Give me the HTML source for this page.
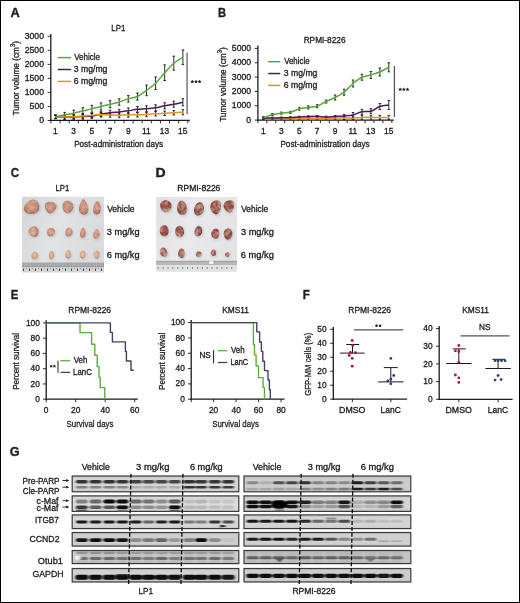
<!DOCTYPE html>
<html><head><meta charset="utf-8"><title>Figure</title>
<style>
html,body{margin:0;padding:0;background:#fff;}
body{width:520px;height:603px;overflow:hidden;}
svg{display:block;font-family:"Liberation Sans", sans-serif;filter:blur(0.3px);}
text{stroke:#1a1a1a;stroke-width:0.3px;}
text[font-weight="bold"]{stroke-width:0.35px;}
</style></head><body>
<svg width="520" height="603" viewBox="0 0 520 603" fill="#231f20">
<defs>
<linearGradient id="bgC" x1="0" y1="0" x2="1" y2="0.3"><stop offset="0" stop-color="#d4d5d7"/><stop offset="0.5" stop-color="#e2e3e5"/><stop offset="1" stop-color="#dadbdd"/></linearGradient>
<linearGradient id="bgD" x1="0" y1="0" x2="1" y2="0.3"><stop offset="0" stop-color="#dfe0e2"/><stop offset="0.5" stop-color="#eaeaec"/><stop offset="1" stop-color="#e4e4e6"/></linearGradient>
<radialGradient id="tC0" cx="0.45" cy="0.42" r="0.62"><stop offset="0" stop-color="#d2a08a"/><stop offset="0.65" stop-color="#bf846c"/><stop offset="1" stop-color="#9c5e4a"/></radialGradient>
<radialGradient id="tC1" cx="0.45" cy="0.42" r="0.62"><stop offset="0" stop-color="#d8a892"/><stop offset="0.65" stop-color="#c68a72"/><stop offset="1" stop-color="#a46650"/></radialGradient>
<radialGradient id="tC2" cx="0.45" cy="0.42" r="0.62"><stop offset="0" stop-color="#e2c0a4"/><stop offset="0.65" stop-color="#d0a284"/><stop offset="1" stop-color="#b4805e"/></radialGradient>
<radialGradient id="tD0" cx="0.45" cy="0.42" r="0.62"><stop offset="0" stop-color="#a45c54"/><stop offset="0.65" stop-color="#904844"/><stop offset="1" stop-color="#7a3a36"/></radialGradient>
<radialGradient id="tD1" cx="0.45" cy="0.42" r="0.62"><stop offset="0" stop-color="#a45c54"/><stop offset="0.65" stop-color="#904844"/><stop offset="1" stop-color="#7a3a36"/></radialGradient>
<radialGradient id="tD2" cx="0.45" cy="0.42" r="0.62"><stop offset="0" stop-color="#b07468"/><stop offset="0.65" stop-color="#a05a50"/><stop offset="1" stop-color="#884640"/></radialGradient>
<linearGradient id="blotbg" x1="0" y1="0" x2="0" y2="1"><stop offset="0" stop-color="#000" stop-opacity="0.07"/><stop offset="0.2" stop-color="#fff" stop-opacity="0.06"/><stop offset="0.8" stop-color="#fff" stop-opacity="0.06"/><stop offset="1" stop-color="#000" stop-opacity="0.06"/></linearGradient>
<filter id="blur04" x="-30%" y="-30%" width="160%" height="160%"><feGaussianBlur stdDeviation="0.45"/></filter>
<filter id="blur06" x="-50%" y="-50%" width="200%" height="200%"><feGaussianBlur stdDeviation="0.6"/></filter>
<filter id="blur1" x="-50%" y="-50%" width="200%" height="200%"><feGaussianBlur stdDeviation="1"/></filter>
<filter id="bandblur" x="-5%" y="-5%" width="110%" height="110%"><feGaussianBlur stdDeviation="0.85 0.5"/></filter>
<filter id="mottleC" x="-20%" y="-20%" width="140%" height="140%"><feTurbulence type="fractalNoise" baseFrequency="0.28" numOctaves="2" seed="4" result="n"/><feColorMatrix in="n" type="matrix" values="0 0 0 0 0.88  0 0 0 0 0.7  0 0 0 0 0.62  1.0 0 0 0 -0.45" result="sp"/><feComposite in="sp" in2="SourceGraphic" operator="in" result="sp2"/><feMerge result="m"><feMergeNode in="SourceGraphic"/><feMergeNode in="sp2"/></feMerge><feGaussianBlur in="m" stdDeviation="0.6"/></filter>
<filter id="mottleD" x="-20%" y="-20%" width="140%" height="140%"><feTurbulence type="fractalNoise" baseFrequency="0.22" numOctaves="2" seed="9" result="n"/><feColorMatrix in="n" type="matrix" values="0 0 0 0 0.7  0 0 0 0 0.56  0 0 0 0 0.46  1.5 0 0 0 -0.6" result="sp"/><feComposite in="sp" in2="SourceGraphic" operator="in" result="sp2"/><feMerge result="m"><feMergeNode in="SourceGraphic"/><feMergeNode in="sp2"/></feMerge><feGaussianBlur in="m" stdDeviation="0.6"/></filter>
</defs>
<rect x="0" y="0" width="520" height="603" fill="#fff"/>
<text x="10.48" y="17.2" font-size="12.9" textLength="9.27" lengthAdjust="spacingAndGlyphs" font-weight="bold">A</text>
<text x="111.27" y="30.9" font-size="8.6" textLength="14.08" lengthAdjust="spacingAndGlyphs">LP1</text>
<line x1="50.8" y1="34" x2="50.8" y2="121" stroke="#1a1a1a" stroke-width="1.3"/>
<line x1="47.6" y1="36.3" x2="50.8" y2="36.3" stroke="#1a1a1a" stroke-width="0.9"/>
<text x="24.75" y="38.8" font-size="8.4" textLength="19.25" lengthAdjust="spacingAndGlyphs">3000</text>
<line x1="47.6" y1="50.33" x2="50.8" y2="50.33" stroke="#1a1a1a" stroke-width="0.9"/>
<text x="24.75" y="52.83" font-size="8.4" textLength="19.25" lengthAdjust="spacingAndGlyphs">2500</text>
<line x1="47.6" y1="64.36" x2="50.8" y2="64.36" stroke="#1a1a1a" stroke-width="0.9"/>
<text x="24.75" y="66.86" font-size="8.4" textLength="19.25" lengthAdjust="spacingAndGlyphs">2000</text>
<line x1="47.6" y1="78.39" x2="50.8" y2="78.39" stroke="#1a1a1a" stroke-width="0.9"/>
<text x="24.75" y="80.89" font-size="8.4" textLength="19.25" lengthAdjust="spacingAndGlyphs">1500</text>
<line x1="47.6" y1="92.42" x2="50.8" y2="92.42" stroke="#1a1a1a" stroke-width="0.9"/>
<text x="24.75" y="94.92" font-size="8.4" textLength="19.25" lengthAdjust="spacingAndGlyphs">1000</text>
<line x1="47.6" y1="106.45" x2="50.8" y2="106.45" stroke="#1a1a1a" stroke-width="0.9"/>
<text x="29.6" y="108.95" font-size="8.4" textLength="14.44" lengthAdjust="spacingAndGlyphs">500</text>
<line x1="47.6" y1="120.48" x2="50.8" y2="120.48" stroke="#1a1a1a" stroke-width="0.9"/>
<text x="39.2" y="122.98" font-size="8.4" textLength="4.81" lengthAdjust="spacingAndGlyphs">0</text>
<line x1="50.2" y1="120.4" x2="189.9" y2="120.4" stroke="#1a1a1a" stroke-width="1.3"/>
<line x1="51" y1="120.4" x2="51" y2="123.4" stroke="#1a1a1a" stroke-width="0.9"/>
<line x1="60.12" y1="120.4" x2="60.12" y2="123.4" stroke="#1a1a1a" stroke-width="0.9"/>
<line x1="69.24" y1="120.4" x2="69.24" y2="123.4" stroke="#1a1a1a" stroke-width="0.9"/>
<line x1="78.36" y1="120.4" x2="78.36" y2="123.4" stroke="#1a1a1a" stroke-width="0.9"/>
<line x1="87.48" y1="120.4" x2="87.48" y2="123.4" stroke="#1a1a1a" stroke-width="0.9"/>
<line x1="96.6" y1="120.4" x2="96.6" y2="123.4" stroke="#1a1a1a" stroke-width="0.9"/>
<line x1="105.72" y1="120.4" x2="105.72" y2="123.4" stroke="#1a1a1a" stroke-width="0.9"/>
<line x1="114.84" y1="120.4" x2="114.84" y2="123.4" stroke="#1a1a1a" stroke-width="0.9"/>
<line x1="123.96" y1="120.4" x2="123.96" y2="123.4" stroke="#1a1a1a" stroke-width="0.9"/>
<line x1="133.08" y1="120.4" x2="133.08" y2="123.4" stroke="#1a1a1a" stroke-width="0.9"/>
<line x1="142.2" y1="120.4" x2="142.2" y2="123.4" stroke="#1a1a1a" stroke-width="0.9"/>
<line x1="151.32" y1="120.4" x2="151.32" y2="123.4" stroke="#1a1a1a" stroke-width="0.9"/>
<line x1="160.44" y1="120.4" x2="160.44" y2="123.4" stroke="#1a1a1a" stroke-width="0.9"/>
<line x1="169.56" y1="120.4" x2="169.56" y2="123.4" stroke="#1a1a1a" stroke-width="0.9"/>
<line x1="178.68" y1="120.4" x2="178.68" y2="123.4" stroke="#1a1a1a" stroke-width="0.9"/>
<line x1="187.8" y1="120.4" x2="187.8" y2="123.4" stroke="#1a1a1a" stroke-width="0.9"/>
<text x="53.04" y="133.7" font-size="8.4" textLength="4.67" lengthAdjust="spacingAndGlyphs">1</text>
<text x="71.37" y="133.7" font-size="8.4" textLength="4.67" lengthAdjust="spacingAndGlyphs">3</text>
<text x="89.57" y="133.7" font-size="8.4" textLength="4.67" lengthAdjust="spacingAndGlyphs">5</text>
<text x="107.77" y="133.7" font-size="8.4" textLength="4.67" lengthAdjust="spacingAndGlyphs">7</text>
<text x="125.97" y="133.7" font-size="8.4" textLength="4.67" lengthAdjust="spacingAndGlyphs">9</text>
<text x="142.03" y="133.7" font-size="8.4" textLength="8.72" lengthAdjust="spacingAndGlyphs">11</text>
<text x="159.89" y="133.7" font-size="8.4" textLength="9.34" lengthAdjust="spacingAndGlyphs">13</text>
<text x="178.09" y="133.7" font-size="8.4" textLength="9.34" lengthAdjust="spacingAndGlyphs">15</text>
<text x="74.15" y="146.9" font-size="9.1" textLength="89.03" lengthAdjust="spacingAndGlyphs">Post-administration days</text>
<text transform="translate(18.9,115.56) rotate(-90) scale(0.93,1)" x="0" y="0" font-size="8.9">Tumor volume (cm<tspan font-size="6.41" dy="-3.74">3</tspan><tspan dy="3.74">)</tspan></text>
<line x1="57.8" y1="57.6" x2="71.1" y2="57.6" stroke="#5aa83a" stroke-width="1.5"/>
<line x1="57.8" y1="69.5" x2="71.1" y2="69.5" stroke="#4a1a5e" stroke-width="1.5"/>
<line x1="57.8" y1="81.4" x2="71.1" y2="81.4" stroke="#e39420" stroke-width="1.5"/>
<text x="74.16" y="60" font-size="8.6" textLength="25.8" lengthAdjust="spacingAndGlyphs">Vehicle</text>
<text x="73.86" y="71.9" font-size="8.6" textLength="33.51" lengthAdjust="spacingAndGlyphs">3 mg/mg</text>
<text x="73.77" y="83.8" font-size="8.6" textLength="33.6" lengthAdjust="spacingAndGlyphs">6 mg/mg</text>
<line x1="55.5" y1="115.6" x2="55.5" y2="118.6" stroke="#151515" stroke-width="0.9"/>
<line x1="54.25" y1="115.6" x2="56.75" y2="115.6" stroke="#151515" stroke-width="0.9"/>
<line x1="54.25" y1="118.6" x2="56.75" y2="118.6" stroke="#151515" stroke-width="0.9"/>
<line x1="64.6" y1="115.3" x2="64.6" y2="119.3" stroke="#151515" stroke-width="0.9"/>
<line x1="63.35" y1="115.3" x2="65.85" y2="115.3" stroke="#151515" stroke-width="0.9"/>
<line x1="63.35" y1="119.3" x2="65.85" y2="119.3" stroke="#151515" stroke-width="0.9"/>
<line x1="73.7" y1="114.9" x2="73.7" y2="119.3" stroke="#151515" stroke-width="0.9"/>
<line x1="72.45" y1="114.9" x2="74.95" y2="114.9" stroke="#151515" stroke-width="0.9"/>
<line x1="72.45" y1="119.3" x2="74.95" y2="119.3" stroke="#151515" stroke-width="0.9"/>
<line x1="82.8" y1="114.1" x2="82.8" y2="119.1" stroke="#151515" stroke-width="0.9"/>
<line x1="81.55" y1="114.1" x2="84.05" y2="114.1" stroke="#151515" stroke-width="0.9"/>
<line x1="81.55" y1="119.1" x2="84.05" y2="119.1" stroke="#151515" stroke-width="0.9"/>
<line x1="91.9" y1="113.4" x2="91.9" y2="118.4" stroke="#151515" stroke-width="0.9"/>
<line x1="90.65" y1="113.4" x2="93.15" y2="113.4" stroke="#151515" stroke-width="0.9"/>
<line x1="90.65" y1="118.4" x2="93.15" y2="118.4" stroke="#151515" stroke-width="0.9"/>
<line x1="101" y1="111.7" x2="101" y2="116.7" stroke="#151515" stroke-width="0.9"/>
<line x1="99.75" y1="111.7" x2="102.25" y2="111.7" stroke="#151515" stroke-width="0.9"/>
<line x1="99.75" y1="116.7" x2="102.25" y2="116.7" stroke="#151515" stroke-width="0.9"/>
<line x1="110.1" y1="110.2" x2="110.1" y2="115.2" stroke="#151515" stroke-width="0.9"/>
<line x1="108.85" y1="110.2" x2="111.35" y2="110.2" stroke="#151515" stroke-width="0.9"/>
<line x1="108.85" y1="115.2" x2="111.35" y2="115.2" stroke="#151515" stroke-width="0.9"/>
<line x1="119.2" y1="109.4" x2="119.2" y2="114.4" stroke="#151515" stroke-width="0.9"/>
<line x1="117.95" y1="109.4" x2="120.45" y2="109.4" stroke="#151515" stroke-width="0.9"/>
<line x1="117.95" y1="114.4" x2="120.45" y2="114.4" stroke="#151515" stroke-width="0.9"/>
<line x1="128.3" y1="108" x2="128.3" y2="113.6" stroke="#151515" stroke-width="0.9"/>
<line x1="127.05" y1="108" x2="129.55" y2="108" stroke="#151515" stroke-width="0.9"/>
<line x1="127.05" y1="113.6" x2="129.55" y2="113.6" stroke="#151515" stroke-width="0.9"/>
<line x1="137.4" y1="106.5" x2="137.4" y2="112.1" stroke="#151515" stroke-width="0.9"/>
<line x1="136.15" y1="106.5" x2="138.65" y2="106.5" stroke="#151515" stroke-width="0.9"/>
<line x1="136.15" y1="112.1" x2="138.65" y2="112.1" stroke="#151515" stroke-width="0.9"/>
<line x1="146.5" y1="105.8" x2="146.5" y2="111.8" stroke="#151515" stroke-width="0.9"/>
<line x1="145.25" y1="105.8" x2="147.75" y2="105.8" stroke="#151515" stroke-width="0.9"/>
<line x1="145.25" y1="111.8" x2="147.75" y2="111.8" stroke="#151515" stroke-width="0.9"/>
<line x1="155.6" y1="104.8" x2="155.6" y2="110.8" stroke="#151515" stroke-width="0.9"/>
<line x1="154.35" y1="104.8" x2="156.85" y2="104.8" stroke="#151515" stroke-width="0.9"/>
<line x1="154.35" y1="110.8" x2="156.85" y2="110.8" stroke="#151515" stroke-width="0.9"/>
<line x1="164.7" y1="102.8" x2="164.7" y2="108.8" stroke="#151515" stroke-width="0.9"/>
<line x1="163.45" y1="102.8" x2="165.95" y2="102.8" stroke="#151515" stroke-width="0.9"/>
<line x1="163.45" y1="108.8" x2="165.95" y2="108.8" stroke="#151515" stroke-width="0.9"/>
<line x1="173.8" y1="101.2" x2="173.8" y2="107.2" stroke="#151515" stroke-width="0.9"/>
<line x1="172.55" y1="101.2" x2="175.05" y2="101.2" stroke="#151515" stroke-width="0.9"/>
<line x1="172.55" y1="107.2" x2="175.05" y2="107.2" stroke="#151515" stroke-width="0.9"/>
<line x1="182.9" y1="98.6" x2="182.9" y2="105.8" stroke="#151515" stroke-width="0.9"/>
<line x1="181.65" y1="98.6" x2="184.15" y2="98.6" stroke="#151515" stroke-width="0.9"/>
<line x1="181.65" y1="105.8" x2="184.15" y2="105.8" stroke="#151515" stroke-width="0.9"/>
<line x1="55.5" y1="115.4" x2="55.5" y2="118.4" stroke="#151515" stroke-width="0.9"/>
<line x1="54.25" y1="115.4" x2="56.75" y2="115.4" stroke="#151515" stroke-width="0.9"/>
<line x1="54.25" y1="118.4" x2="56.75" y2="118.4" stroke="#151515" stroke-width="0.9"/>
<line x1="64.6" y1="115" x2="64.6" y2="119" stroke="#151515" stroke-width="0.9"/>
<line x1="63.35" y1="115" x2="65.85" y2="115" stroke="#151515" stroke-width="0.9"/>
<line x1="63.35" y1="119" x2="65.85" y2="119" stroke="#151515" stroke-width="0.9"/>
<line x1="73.7" y1="114.7" x2="73.7" y2="118.7" stroke="#151515" stroke-width="0.9"/>
<line x1="72.45" y1="114.7" x2="74.95" y2="114.7" stroke="#151515" stroke-width="0.9"/>
<line x1="72.45" y1="118.7" x2="74.95" y2="118.7" stroke="#151515" stroke-width="0.9"/>
<line x1="82.8" y1="113.8" x2="82.8" y2="118.2" stroke="#151515" stroke-width="0.9"/>
<line x1="81.55" y1="113.8" x2="84.05" y2="113.8" stroke="#151515" stroke-width="0.9"/>
<line x1="81.55" y1="118.2" x2="84.05" y2="118.2" stroke="#151515" stroke-width="0.9"/>
<line x1="91.9" y1="113.1" x2="91.9" y2="117.5" stroke="#151515" stroke-width="0.9"/>
<line x1="90.65" y1="113.1" x2="93.15" y2="113.1" stroke="#151515" stroke-width="0.9"/>
<line x1="90.65" y1="117.5" x2="93.15" y2="117.5" stroke="#151515" stroke-width="0.9"/>
<line x1="101" y1="112.5" x2="101" y2="116.9" stroke="#151515" stroke-width="0.9"/>
<line x1="99.75" y1="112.5" x2="102.25" y2="112.5" stroke="#151515" stroke-width="0.9"/>
<line x1="99.75" y1="116.9" x2="102.25" y2="116.9" stroke="#151515" stroke-width="0.9"/>
<line x1="110.1" y1="112.8" x2="110.1" y2="117.2" stroke="#151515" stroke-width="0.9"/>
<line x1="108.85" y1="112.8" x2="111.35" y2="112.8" stroke="#151515" stroke-width="0.9"/>
<line x1="108.85" y1="117.2" x2="111.35" y2="117.2" stroke="#151515" stroke-width="0.9"/>
<line x1="119.2" y1="113" x2="119.2" y2="117.4" stroke="#151515" stroke-width="0.9"/>
<line x1="117.95" y1="113" x2="120.45" y2="113" stroke="#151515" stroke-width="0.9"/>
<line x1="117.95" y1="117.4" x2="120.45" y2="117.4" stroke="#151515" stroke-width="0.9"/>
<line x1="128.3" y1="112.8" x2="128.3" y2="117.2" stroke="#151515" stroke-width="0.9"/>
<line x1="127.05" y1="112.8" x2="129.55" y2="112.8" stroke="#151515" stroke-width="0.9"/>
<line x1="127.05" y1="117.2" x2="129.55" y2="117.2" stroke="#151515" stroke-width="0.9"/>
<line x1="137.4" y1="112.5" x2="137.4" y2="116.9" stroke="#151515" stroke-width="0.9"/>
<line x1="136.15" y1="112.5" x2="138.65" y2="112.5" stroke="#151515" stroke-width="0.9"/>
<line x1="136.15" y1="116.9" x2="138.65" y2="116.9" stroke="#151515" stroke-width="0.9"/>
<line x1="146.5" y1="112.3" x2="146.5" y2="116.7" stroke="#151515" stroke-width="0.9"/>
<line x1="145.25" y1="112.3" x2="147.75" y2="112.3" stroke="#151515" stroke-width="0.9"/>
<line x1="145.25" y1="116.7" x2="147.75" y2="116.7" stroke="#151515" stroke-width="0.9"/>
<line x1="155.6" y1="111.6" x2="155.6" y2="116" stroke="#151515" stroke-width="0.9"/>
<line x1="154.35" y1="111.6" x2="156.85" y2="111.6" stroke="#151515" stroke-width="0.9"/>
<line x1="154.35" y1="116" x2="156.85" y2="116" stroke="#151515" stroke-width="0.9"/>
<line x1="164.7" y1="111.1" x2="164.7" y2="115.5" stroke="#151515" stroke-width="0.9"/>
<line x1="163.45" y1="111.1" x2="165.95" y2="111.1" stroke="#151515" stroke-width="0.9"/>
<line x1="163.45" y1="115.5" x2="165.95" y2="115.5" stroke="#151515" stroke-width="0.9"/>
<line x1="173.8" y1="110.6" x2="173.8" y2="115" stroke="#151515" stroke-width="0.9"/>
<line x1="172.55" y1="110.6" x2="175.05" y2="110.6" stroke="#151515" stroke-width="0.9"/>
<line x1="172.55" y1="115" x2="175.05" y2="115" stroke="#151515" stroke-width="0.9"/>
<line x1="182.9" y1="109.6" x2="182.9" y2="114.8" stroke="#151515" stroke-width="0.9"/>
<line x1="181.65" y1="109.6" x2="184.15" y2="109.6" stroke="#151515" stroke-width="0.9"/>
<line x1="181.65" y1="114.8" x2="184.15" y2="114.8" stroke="#151515" stroke-width="0.9"/>
<line x1="55.5" y1="114.7" x2="55.5" y2="118.7" stroke="#151515" stroke-width="0.9"/>
<line x1="54.25" y1="114.7" x2="56.75" y2="114.7" stroke="#151515" stroke-width="0.9"/>
<line x1="54.25" y1="118.7" x2="56.75" y2="118.7" stroke="#151515" stroke-width="0.9"/>
<line x1="64.6" y1="112.4" x2="64.6" y2="117.4" stroke="#151515" stroke-width="0.9"/>
<line x1="63.35" y1="112.4" x2="65.85" y2="112.4" stroke="#151515" stroke-width="0.9"/>
<line x1="63.35" y1="117.4" x2="65.85" y2="117.4" stroke="#151515" stroke-width="0.9"/>
<line x1="73.7" y1="110.2" x2="73.7" y2="116.2" stroke="#151515" stroke-width="0.9"/>
<line x1="72.45" y1="110.2" x2="74.95" y2="110.2" stroke="#151515" stroke-width="0.9"/>
<line x1="72.45" y1="116.2" x2="74.95" y2="116.2" stroke="#151515" stroke-width="0.9"/>
<line x1="82.8" y1="107.7" x2="82.8" y2="114.3" stroke="#151515" stroke-width="0.9"/>
<line x1="81.55" y1="107.7" x2="84.05" y2="107.7" stroke="#151515" stroke-width="0.9"/>
<line x1="81.55" y1="114.3" x2="84.05" y2="114.3" stroke="#151515" stroke-width="0.9"/>
<line x1="91.9" y1="105.3" x2="91.9" y2="112.3" stroke="#151515" stroke-width="0.9"/>
<line x1="90.65" y1="105.3" x2="93.15" y2="105.3" stroke="#151515" stroke-width="0.9"/>
<line x1="90.65" y1="112.3" x2="93.15" y2="112.3" stroke="#151515" stroke-width="0.9"/>
<line x1="101" y1="102.9" x2="101" y2="110.1" stroke="#151515" stroke-width="0.9"/>
<line x1="99.75" y1="102.9" x2="102.25" y2="102.9" stroke="#151515" stroke-width="0.9"/>
<line x1="99.75" y1="110.1" x2="102.25" y2="110.1" stroke="#151515" stroke-width="0.9"/>
<line x1="110.1" y1="100.7" x2="110.1" y2="107.7" stroke="#151515" stroke-width="0.9"/>
<line x1="108.85" y1="100.7" x2="111.35" y2="100.7" stroke="#151515" stroke-width="0.9"/>
<line x1="108.85" y1="107.7" x2="111.35" y2="107.7" stroke="#151515" stroke-width="0.9"/>
<line x1="119.2" y1="98.8" x2="119.2" y2="105.2" stroke="#151515" stroke-width="0.9"/>
<line x1="117.95" y1="98.8" x2="120.45" y2="98.8" stroke="#151515" stroke-width="0.9"/>
<line x1="117.95" y1="105.2" x2="120.45" y2="105.2" stroke="#151515" stroke-width="0.9"/>
<line x1="128.3" y1="95.6" x2="128.3" y2="102" stroke="#151515" stroke-width="0.9"/>
<line x1="127.05" y1="95.6" x2="129.55" y2="95.6" stroke="#151515" stroke-width="0.9"/>
<line x1="127.05" y1="102" x2="129.55" y2="102" stroke="#151515" stroke-width="0.9"/>
<line x1="137.4" y1="93" x2="137.4" y2="100" stroke="#151515" stroke-width="0.9"/>
<line x1="136.15" y1="93" x2="138.65" y2="93" stroke="#151515" stroke-width="0.9"/>
<line x1="136.15" y1="100" x2="138.65" y2="100" stroke="#151515" stroke-width="0.9"/>
<line x1="146.5" y1="85.1" x2="146.5" y2="95.7" stroke="#151515" stroke-width="0.9"/>
<line x1="145.25" y1="85.1" x2="147.75" y2="85.1" stroke="#151515" stroke-width="0.9"/>
<line x1="145.25" y1="95.7" x2="147.75" y2="95.7" stroke="#151515" stroke-width="0.9"/>
<line x1="155.6" y1="77" x2="155.6" y2="89.4" stroke="#151515" stroke-width="0.9"/>
<line x1="154.35" y1="77" x2="156.85" y2="77" stroke="#151515" stroke-width="0.9"/>
<line x1="154.35" y1="89.4" x2="156.85" y2="89.4" stroke="#151515" stroke-width="0.9"/>
<line x1="164.7" y1="64.9" x2="164.7" y2="80.5" stroke="#151515" stroke-width="0.9"/>
<line x1="163.45" y1="64.9" x2="165.95" y2="64.9" stroke="#151515" stroke-width="0.9"/>
<line x1="163.45" y1="80.5" x2="165.95" y2="80.5" stroke="#151515" stroke-width="0.9"/>
<line x1="173.8" y1="56.2" x2="173.8" y2="70.2" stroke="#151515" stroke-width="0.9"/>
<line x1="172.55" y1="56.2" x2="175.05" y2="56.2" stroke="#151515" stroke-width="0.9"/>
<line x1="172.55" y1="70.2" x2="175.05" y2="70.2" stroke="#151515" stroke-width="0.9"/>
<line x1="182.9" y1="50" x2="182.9" y2="64.6" stroke="#151515" stroke-width="0.9"/>
<line x1="181.65" y1="50" x2="184.15" y2="50" stroke="#151515" stroke-width="0.9"/>
<line x1="181.65" y1="64.6" x2="184.15" y2="64.6" stroke="#151515" stroke-width="0.9"/>
<path d="M55.5,117.1 C57.02,117.13 61.57,117.3 64.6,117.3 C67.63,117.3 70.67,117.22 73.7,117.1 C76.73,116.98 79.77,116.8 82.8,116.6 C85.83,116.4 88.87,116.3 91.9,115.9 C94.93,115.5 97.97,114.73 101,114.2 C104.03,113.67 107.07,113.08 110.1,112.7 C113.13,112.32 116.17,112.22 119.2,111.9 C122.23,111.58 125.27,111.23 128.3,110.8 C131.33,110.37 134.37,109.63 137.4,109.3 C140.43,108.97 143.47,109.05 146.5,108.8 C149.53,108.55 152.57,108.3 155.6,107.8 C158.63,107.3 161.67,106.4 164.7,105.8 C167.73,105.2 170.77,104.8 173.8,104.2 C176.83,103.6 181.38,102.53 182.9,102.2" fill="none" stroke="#4a1a5e" stroke-width="1.5"/>
<path d="M55.5,116.9 C57.02,116.92 61.57,117.03 64.6,117 C67.63,116.97 70.67,116.87 73.7,116.7 C76.73,116.53 79.77,116.23 82.8,116 C85.83,115.77 88.87,115.52 91.9,115.3 C94.93,115.08 97.97,114.75 101,114.7 C104.03,114.65 107.07,114.92 110.1,115 C113.13,115.08 116.17,115.2 119.2,115.2 C122.23,115.2 125.27,115.08 128.3,115 C131.33,114.92 134.37,114.78 137.4,114.7 C140.43,114.62 143.47,114.65 146.5,114.5 C149.53,114.35 152.57,114 155.6,113.8 C158.63,113.6 161.67,113.47 164.7,113.3 C167.73,113.13 170.77,112.98 173.8,112.8 C176.83,112.62 181.38,112.3 182.9,112.2" fill="none" stroke="#e39420" stroke-width="1.5"/>
<path d="M55.5,116.7 C57.02,116.4 61.57,115.48 64.6,114.9 C67.63,114.32 70.67,113.85 73.7,113.2 C76.73,112.55 79.77,111.73 82.8,111 C85.83,110.27 88.87,109.55 91.9,108.8 C94.93,108.05 97.97,107.27 101,106.5 C104.03,105.73 107.07,104.95 110.1,104.2 C113.13,103.45 116.17,102.9 119.2,102 C122.23,101.1 125.27,99.72 128.3,98.8 C131.33,97.88 134.37,97.9 137.4,96.5 C140.43,95.1 143.47,92.62 146.5,90.4 C149.53,88.18 152.57,86.15 155.6,83.2 C158.63,80.25 161.67,76.03 164.7,72.7 C167.73,69.37 170.77,65.77 173.8,63.2 C176.83,60.63 181.38,58.28 182.9,57.3" fill="none" stroke="#5aa83a" stroke-width="1.5"/>
<line x1="187.1" y1="52.7" x2="187.1" y2="114.2" stroke="#808080" stroke-width="1.6"/>
<path d="M192.3,81.7 L192.3,80.45 M192.3,81.7 L193.49,81.31 M192.3,81.7 L193.03,82.71 M192.3,81.7 L191.57,82.71 M192.3,81.7 L191.11,81.31 " stroke="#1a1a1a" stroke-width="0.9" stroke-linecap="round" fill="none"/>
<circle cx="192.3" cy="81.7" r="0.69" fill="#1a1a1a"/>
<path d="M196,81.7 L196,80.45 M196,81.7 L197.19,81.31 M196,81.7 L196.73,82.71 M196,81.7 L195.27,82.71 M196,81.7 L194.81,81.31 " stroke="#1a1a1a" stroke-width="0.9" stroke-linecap="round" fill="none"/>
<circle cx="196" cy="81.7" r="0.69" fill="#1a1a1a"/>
<path d="M199.6,81.7 L199.6,80.45 M199.6,81.7 L200.79,81.31 M199.6,81.7 L200.33,82.71 M199.6,81.7 L198.87,82.71 M199.6,81.7 L198.41,81.31 " stroke="#1a1a1a" stroke-width="0.9" stroke-linecap="round" fill="none"/>
<circle cx="199.6" cy="81.7" r="0.69" fill="#1a1a1a"/>
<text x="217.98" y="17.1" font-size="12.46" textLength="8.05" lengthAdjust="spacingAndGlyphs" font-weight="bold">B</text>
<text x="303.64" y="42.8" font-size="8.6" textLength="41.92" lengthAdjust="spacingAndGlyphs">RPMI-8226</text>
<line x1="257.9" y1="45.6" x2="257.9" y2="120.7" stroke="#1a1a1a" stroke-width="1.3"/>
<line x1="254.7" y1="48.4" x2="257.9" y2="48.4" stroke="#1a1a1a" stroke-width="0.9"/>
<text x="231.85" y="50.9" font-size="8.4" textLength="19.25" lengthAdjust="spacingAndGlyphs">5000</text>
<line x1="254.7" y1="62.74" x2="257.9" y2="62.74" stroke="#1a1a1a" stroke-width="0.9"/>
<text x="231.85" y="65.24" font-size="8.4" textLength="19.25" lengthAdjust="spacingAndGlyphs">4000</text>
<line x1="254.7" y1="77.08" x2="257.9" y2="77.08" stroke="#1a1a1a" stroke-width="0.9"/>
<text x="231.85" y="79.58" font-size="8.4" textLength="19.25" lengthAdjust="spacingAndGlyphs">3000</text>
<line x1="254.7" y1="91.42" x2="257.9" y2="91.42" stroke="#1a1a1a" stroke-width="0.9"/>
<text x="231.85" y="93.92" font-size="8.4" textLength="19.25" lengthAdjust="spacingAndGlyphs">2000</text>
<line x1="254.7" y1="105.76" x2="257.9" y2="105.76" stroke="#1a1a1a" stroke-width="0.9"/>
<text x="231.85" y="108.26" font-size="8.4" textLength="19.25" lengthAdjust="spacingAndGlyphs">1000</text>
<line x1="254.7" y1="120.1" x2="257.9" y2="120.1" stroke="#1a1a1a" stroke-width="0.9"/>
<text x="246.3" y="122.6" font-size="8.4" textLength="4.81" lengthAdjust="spacingAndGlyphs">0</text>
<line x1="257.3" y1="120.1" x2="393.8" y2="120.1" stroke="#1a1a1a" stroke-width="1.3"/>
<line x1="257.9" y1="120.1" x2="257.9" y2="123.1" stroke="#1a1a1a" stroke-width="0.9"/>
<line x1="266.83" y1="120.1" x2="266.83" y2="123.1" stroke="#1a1a1a" stroke-width="0.9"/>
<line x1="275.76" y1="120.1" x2="275.76" y2="123.1" stroke="#1a1a1a" stroke-width="0.9"/>
<line x1="284.69" y1="120.1" x2="284.69" y2="123.1" stroke="#1a1a1a" stroke-width="0.9"/>
<line x1="293.62" y1="120.1" x2="293.62" y2="123.1" stroke="#1a1a1a" stroke-width="0.9"/>
<line x1="302.55" y1="120.1" x2="302.55" y2="123.1" stroke="#1a1a1a" stroke-width="0.9"/>
<line x1="311.48" y1="120.1" x2="311.48" y2="123.1" stroke="#1a1a1a" stroke-width="0.9"/>
<line x1="320.41" y1="120.1" x2="320.41" y2="123.1" stroke="#1a1a1a" stroke-width="0.9"/>
<line x1="329.34" y1="120.1" x2="329.34" y2="123.1" stroke="#1a1a1a" stroke-width="0.9"/>
<line x1="338.27" y1="120.1" x2="338.27" y2="123.1" stroke="#1a1a1a" stroke-width="0.9"/>
<line x1="347.2" y1="120.1" x2="347.2" y2="123.1" stroke="#1a1a1a" stroke-width="0.9"/>
<line x1="356.13" y1="120.1" x2="356.13" y2="123.1" stroke="#1a1a1a" stroke-width="0.9"/>
<line x1="365.06" y1="120.1" x2="365.06" y2="123.1" stroke="#1a1a1a" stroke-width="0.9"/>
<line x1="373.99" y1="120.1" x2="373.99" y2="123.1" stroke="#1a1a1a" stroke-width="0.9"/>
<line x1="382.92" y1="120.1" x2="382.92" y2="123.1" stroke="#1a1a1a" stroke-width="0.9"/>
<line x1="391.85" y1="120.1" x2="391.85" y2="123.1" stroke="#1a1a1a" stroke-width="0.9"/>
<text x="261.04" y="133.5" font-size="8.4" textLength="4.67" lengthAdjust="spacingAndGlyphs">1</text>
<text x="279.07" y="133.5" font-size="8.4" textLength="4.67" lengthAdjust="spacingAndGlyphs">3</text>
<text x="296.97" y="133.5" font-size="8.4" textLength="4.67" lengthAdjust="spacingAndGlyphs">5</text>
<text x="314.87" y="133.5" font-size="8.4" textLength="4.67" lengthAdjust="spacingAndGlyphs">7</text>
<text x="332.77" y="133.5" font-size="8.4" textLength="4.67" lengthAdjust="spacingAndGlyphs">9</text>
<text x="348.53" y="133.5" font-size="8.4" textLength="8.72" lengthAdjust="spacingAndGlyphs">11</text>
<text x="366.09" y="133.5" font-size="8.4" textLength="9.34" lengthAdjust="spacingAndGlyphs">13</text>
<text x="383.99" y="133.5" font-size="8.4" textLength="9.34" lengthAdjust="spacingAndGlyphs">15</text>
<text x="280.45" y="146.9" font-size="9.1" textLength="89.23" lengthAdjust="spacingAndGlyphs">Post-administration days</text>
<text transform="translate(225.8,121.87) rotate(-90) scale(0.93,1)" x="0" y="0" font-size="8.9">Tumor volume (cm<tspan font-size="6.41" dy="-3.74">3</tspan><tspan dy="3.74">)</tspan></text>
<line x1="268.2" y1="61.7" x2="280.3" y2="61.7" stroke="#5aa83a" stroke-width="1.5"/>
<line x1="268.2" y1="73.55" x2="280.3" y2="73.55" stroke="#4a1a5e" stroke-width="1.5"/>
<line x1="268.2" y1="85.4" x2="280.3" y2="85.4" stroke="#e39420" stroke-width="1.5"/>
<text x="284.16" y="63.8" font-size="8.6" textLength="25.39" lengthAdjust="spacingAndGlyphs">Vehicle</text>
<text x="283.86" y="75.5" font-size="8.6" textLength="33.51" lengthAdjust="spacingAndGlyphs">3 mg/mg</text>
<text x="283.77" y="87.5" font-size="8.6" textLength="33.6" lengthAdjust="spacingAndGlyphs">6 mg/mg</text>
<line x1="263.5" y1="117.8" x2="263.5" y2="119.4" stroke="#151515" stroke-width="0.9"/>
<line x1="262.25" y1="117.8" x2="264.75" y2="117.8" stroke="#151515" stroke-width="0.9"/>
<line x1="262.25" y1="119.4" x2="264.75" y2="119.4" stroke="#151515" stroke-width="0.9"/>
<line x1="272.45" y1="117.7" x2="272.45" y2="119.3" stroke="#151515" stroke-width="0.9"/>
<line x1="271.2" y1="117.7" x2="273.7" y2="117.7" stroke="#151515" stroke-width="0.9"/>
<line x1="271.2" y1="119.3" x2="273.7" y2="119.3" stroke="#151515" stroke-width="0.9"/>
<line x1="281.4" y1="117.7" x2="281.4" y2="119.3" stroke="#151515" stroke-width="0.9"/>
<line x1="280.15" y1="117.7" x2="282.65" y2="117.7" stroke="#151515" stroke-width="0.9"/>
<line x1="280.15" y1="119.3" x2="282.65" y2="119.3" stroke="#151515" stroke-width="0.9"/>
<line x1="290.35" y1="117.7" x2="290.35" y2="119.3" stroke="#151515" stroke-width="0.9"/>
<line x1="289.1" y1="117.7" x2="291.6" y2="117.7" stroke="#151515" stroke-width="0.9"/>
<line x1="289.1" y1="119.3" x2="291.6" y2="119.3" stroke="#151515" stroke-width="0.9"/>
<line x1="299.3" y1="117.6" x2="299.3" y2="119.2" stroke="#151515" stroke-width="0.9"/>
<line x1="298.05" y1="117.6" x2="300.55" y2="117.6" stroke="#151515" stroke-width="0.9"/>
<line x1="298.05" y1="119.2" x2="300.55" y2="119.2" stroke="#151515" stroke-width="0.9"/>
<line x1="308.25" y1="117.4" x2="308.25" y2="119" stroke="#151515" stroke-width="0.9"/>
<line x1="307" y1="117.4" x2="309.5" y2="117.4" stroke="#151515" stroke-width="0.9"/>
<line x1="307" y1="119" x2="309.5" y2="119" stroke="#151515" stroke-width="0.9"/>
<line x1="317.2" y1="117.4" x2="317.2" y2="119" stroke="#151515" stroke-width="0.9"/>
<line x1="315.95" y1="117.4" x2="318.45" y2="117.4" stroke="#151515" stroke-width="0.9"/>
<line x1="315.95" y1="119" x2="318.45" y2="119" stroke="#151515" stroke-width="0.9"/>
<line x1="326.15" y1="117.6" x2="326.15" y2="119.2" stroke="#151515" stroke-width="0.9"/>
<line x1="324.9" y1="117.6" x2="327.4" y2="117.6" stroke="#151515" stroke-width="0.9"/>
<line x1="324.9" y1="119.2" x2="327.4" y2="119.2" stroke="#151515" stroke-width="0.9"/>
<line x1="335.1" y1="116.8" x2="335.1" y2="119.2" stroke="#151515" stroke-width="0.9"/>
<line x1="333.85" y1="116.8" x2="336.35" y2="116.8" stroke="#151515" stroke-width="0.9"/>
<line x1="333.85" y1="119.2" x2="336.35" y2="119.2" stroke="#151515" stroke-width="0.9"/>
<line x1="344.05" y1="116.5" x2="344.05" y2="119.5" stroke="#151515" stroke-width="0.9"/>
<line x1="342.8" y1="116.5" x2="345.3" y2="116.5" stroke="#151515" stroke-width="0.9"/>
<line x1="342.8" y1="119.5" x2="345.3" y2="119.5" stroke="#151515" stroke-width="0.9"/>
<line x1="353" y1="116.7" x2="353" y2="119.7" stroke="#151515" stroke-width="0.9"/>
<line x1="351.75" y1="116.7" x2="354.25" y2="116.7" stroke="#151515" stroke-width="0.9"/>
<line x1="351.75" y1="119.7" x2="354.25" y2="119.7" stroke="#151515" stroke-width="0.9"/>
<line x1="361.95" y1="115.6" x2="361.95" y2="119.2" stroke="#151515" stroke-width="0.9"/>
<line x1="360.7" y1="115.6" x2="363.2" y2="115.6" stroke="#151515" stroke-width="0.9"/>
<line x1="360.7" y1="119.2" x2="363.2" y2="119.2" stroke="#151515" stroke-width="0.9"/>
<line x1="370.9" y1="115.6" x2="370.9" y2="119.2" stroke="#151515" stroke-width="0.9"/>
<line x1="369.65" y1="115.6" x2="372.15" y2="115.6" stroke="#151515" stroke-width="0.9"/>
<line x1="369.65" y1="119.2" x2="372.15" y2="119.2" stroke="#151515" stroke-width="0.9"/>
<line x1="379.85" y1="115.4" x2="379.85" y2="119.4" stroke="#151515" stroke-width="0.9"/>
<line x1="378.6" y1="115.4" x2="381.1" y2="115.4" stroke="#151515" stroke-width="0.9"/>
<line x1="378.6" y1="119.4" x2="381.1" y2="119.4" stroke="#151515" stroke-width="0.9"/>
<line x1="388.8" y1="115.4" x2="388.8" y2="119.4" stroke="#151515" stroke-width="0.9"/>
<line x1="387.55" y1="115.4" x2="390.05" y2="115.4" stroke="#151515" stroke-width="0.9"/>
<line x1="387.55" y1="119.4" x2="390.05" y2="119.4" stroke="#151515" stroke-width="0.9"/>
<line x1="263.5" y1="117.5" x2="263.5" y2="119.1" stroke="#151515" stroke-width="0.9"/>
<line x1="262.25" y1="117.5" x2="264.75" y2="117.5" stroke="#151515" stroke-width="0.9"/>
<line x1="262.25" y1="119.1" x2="264.75" y2="119.1" stroke="#151515" stroke-width="0.9"/>
<line x1="272.45" y1="117.2" x2="272.45" y2="118.8" stroke="#151515" stroke-width="0.9"/>
<line x1="271.2" y1="117.2" x2="273.7" y2="117.2" stroke="#151515" stroke-width="0.9"/>
<line x1="271.2" y1="118.8" x2="273.7" y2="118.8" stroke="#151515" stroke-width="0.9"/>
<line x1="281.4" y1="117" x2="281.4" y2="118.6" stroke="#151515" stroke-width="0.9"/>
<line x1="280.15" y1="117" x2="282.65" y2="117" stroke="#151515" stroke-width="0.9"/>
<line x1="280.15" y1="118.6" x2="282.65" y2="118.6" stroke="#151515" stroke-width="0.9"/>
<line x1="290.35" y1="116.7" x2="290.35" y2="118.3" stroke="#151515" stroke-width="0.9"/>
<line x1="289.1" y1="116.7" x2="291.6" y2="116.7" stroke="#151515" stroke-width="0.9"/>
<line x1="289.1" y1="118.3" x2="291.6" y2="118.3" stroke="#151515" stroke-width="0.9"/>
<line x1="299.3" y1="116.2" x2="299.3" y2="117.8" stroke="#151515" stroke-width="0.9"/>
<line x1="298.05" y1="116.2" x2="300.55" y2="116.2" stroke="#151515" stroke-width="0.9"/>
<line x1="298.05" y1="117.8" x2="300.55" y2="117.8" stroke="#151515" stroke-width="0.9"/>
<line x1="308.25" y1="115.8" x2="308.25" y2="117.4" stroke="#151515" stroke-width="0.9"/>
<line x1="307" y1="115.8" x2="309.5" y2="115.8" stroke="#151515" stroke-width="0.9"/>
<line x1="307" y1="117.4" x2="309.5" y2="117.4" stroke="#151515" stroke-width="0.9"/>
<line x1="317.2" y1="115.5" x2="317.2" y2="117.1" stroke="#151515" stroke-width="0.9"/>
<line x1="315.95" y1="115.5" x2="318.45" y2="115.5" stroke="#151515" stroke-width="0.9"/>
<line x1="315.95" y1="117.1" x2="318.45" y2="117.1" stroke="#151515" stroke-width="0.9"/>
<line x1="326.15" y1="116.2" x2="326.15" y2="117.8" stroke="#151515" stroke-width="0.9"/>
<line x1="324.9" y1="116.2" x2="327.4" y2="116.2" stroke="#151515" stroke-width="0.9"/>
<line x1="324.9" y1="117.8" x2="327.4" y2="117.8" stroke="#151515" stroke-width="0.9"/>
<line x1="335.1" y1="115.5" x2="335.1" y2="117.5" stroke="#151515" stroke-width="0.9"/>
<line x1="333.85" y1="115.5" x2="336.35" y2="115.5" stroke="#151515" stroke-width="0.9"/>
<line x1="333.85" y1="117.5" x2="336.35" y2="117.5" stroke="#151515" stroke-width="0.9"/>
<line x1="344.05" y1="114.5" x2="344.05" y2="117.5" stroke="#151515" stroke-width="0.9"/>
<line x1="342.8" y1="114.5" x2="345.3" y2="114.5" stroke="#151515" stroke-width="0.9"/>
<line x1="342.8" y1="117.5" x2="345.3" y2="117.5" stroke="#151515" stroke-width="0.9"/>
<line x1="353" y1="112.5" x2="353" y2="117.5" stroke="#151515" stroke-width="0.9"/>
<line x1="351.75" y1="112.5" x2="354.25" y2="112.5" stroke="#151515" stroke-width="0.9"/>
<line x1="351.75" y1="117.5" x2="354.25" y2="117.5" stroke="#151515" stroke-width="0.9"/>
<line x1="361.95" y1="109.3" x2="361.95" y2="114.3" stroke="#151515" stroke-width="0.9"/>
<line x1="360.7" y1="109.3" x2="363.2" y2="109.3" stroke="#151515" stroke-width="0.9"/>
<line x1="360.7" y1="114.3" x2="363.2" y2="114.3" stroke="#151515" stroke-width="0.9"/>
<line x1="370.9" y1="108.7" x2="370.9" y2="113.7" stroke="#151515" stroke-width="0.9"/>
<line x1="369.65" y1="108.7" x2="372.15" y2="108.7" stroke="#151515" stroke-width="0.9"/>
<line x1="369.65" y1="113.7" x2="372.15" y2="113.7" stroke="#151515" stroke-width="0.9"/>
<line x1="379.85" y1="103.5" x2="379.85" y2="109.5" stroke="#151515" stroke-width="0.9"/>
<line x1="378.6" y1="103.5" x2="381.1" y2="103.5" stroke="#151515" stroke-width="0.9"/>
<line x1="378.6" y1="109.5" x2="381.1" y2="109.5" stroke="#151515" stroke-width="0.9"/>
<line x1="388.8" y1="100.4" x2="388.8" y2="109.6" stroke="#151515" stroke-width="0.9"/>
<line x1="387.55" y1="100.4" x2="390.05" y2="100.4" stroke="#151515" stroke-width="0.9"/>
<line x1="387.55" y1="109.6" x2="390.05" y2="109.6" stroke="#151515" stroke-width="0.9"/>
<line x1="263.5" y1="116.7" x2="263.5" y2="118.7" stroke="#151515" stroke-width="0.9"/>
<line x1="262.25" y1="116.7" x2="264.75" y2="116.7" stroke="#151515" stroke-width="0.9"/>
<line x1="262.25" y1="118.7" x2="264.75" y2="118.7" stroke="#151515" stroke-width="0.9"/>
<line x1="272.45" y1="113.6" x2="272.45" y2="115.6" stroke="#151515" stroke-width="0.9"/>
<line x1="271.2" y1="113.6" x2="273.7" y2="113.6" stroke="#151515" stroke-width="0.9"/>
<line x1="271.2" y1="115.6" x2="273.7" y2="115.6" stroke="#151515" stroke-width="0.9"/>
<line x1="281.4" y1="112.1" x2="281.4" y2="114.1" stroke="#151515" stroke-width="0.9"/>
<line x1="280.15" y1="112.1" x2="282.65" y2="112.1" stroke="#151515" stroke-width="0.9"/>
<line x1="280.15" y1="114.1" x2="282.65" y2="114.1" stroke="#151515" stroke-width="0.9"/>
<line x1="290.35" y1="111.3" x2="290.35" y2="113.3" stroke="#151515" stroke-width="0.9"/>
<line x1="289.1" y1="111.3" x2="291.6" y2="111.3" stroke="#151515" stroke-width="0.9"/>
<line x1="289.1" y1="113.3" x2="291.6" y2="113.3" stroke="#151515" stroke-width="0.9"/>
<line x1="299.3" y1="107.7" x2="299.3" y2="110.1" stroke="#151515" stroke-width="0.9"/>
<line x1="298.05" y1="107.7" x2="300.55" y2="107.7" stroke="#151515" stroke-width="0.9"/>
<line x1="298.05" y1="110.1" x2="300.55" y2="110.1" stroke="#151515" stroke-width="0.9"/>
<line x1="308.25" y1="105.9" x2="308.25" y2="108.9" stroke="#151515" stroke-width="0.9"/>
<line x1="307" y1="105.9" x2="309.5" y2="105.9" stroke="#151515" stroke-width="0.9"/>
<line x1="307" y1="108.9" x2="309.5" y2="108.9" stroke="#151515" stroke-width="0.9"/>
<line x1="317.2" y1="104.7" x2="317.2" y2="107.7" stroke="#151515" stroke-width="0.9"/>
<line x1="315.95" y1="104.7" x2="318.45" y2="104.7" stroke="#151515" stroke-width="0.9"/>
<line x1="315.95" y1="107.7" x2="318.45" y2="107.7" stroke="#151515" stroke-width="0.9"/>
<line x1="326.15" y1="100" x2="326.15" y2="103" stroke="#151515" stroke-width="0.9"/>
<line x1="324.9" y1="100" x2="327.4" y2="100" stroke="#151515" stroke-width="0.9"/>
<line x1="324.9" y1="103" x2="327.4" y2="103" stroke="#151515" stroke-width="0.9"/>
<line x1="335.1" y1="95" x2="335.1" y2="100" stroke="#151515" stroke-width="0.9"/>
<line x1="333.85" y1="95" x2="336.35" y2="95" stroke="#151515" stroke-width="0.9"/>
<line x1="333.85" y1="100" x2="336.35" y2="100" stroke="#151515" stroke-width="0.9"/>
<line x1="344.05" y1="89.2" x2="344.05" y2="95.2" stroke="#151515" stroke-width="0.9"/>
<line x1="342.8" y1="89.2" x2="345.3" y2="89.2" stroke="#151515" stroke-width="0.9"/>
<line x1="342.8" y1="95.2" x2="345.3" y2="95.2" stroke="#151515" stroke-width="0.9"/>
<line x1="353" y1="80" x2="353" y2="87" stroke="#151515" stroke-width="0.9"/>
<line x1="351.75" y1="80" x2="354.25" y2="80" stroke="#151515" stroke-width="0.9"/>
<line x1="351.75" y1="87" x2="354.25" y2="87" stroke="#151515" stroke-width="0.9"/>
<line x1="361.95" y1="74.2" x2="361.95" y2="80.2" stroke="#151515" stroke-width="0.9"/>
<line x1="360.7" y1="74.2" x2="363.2" y2="74.2" stroke="#151515" stroke-width="0.9"/>
<line x1="360.7" y1="80.2" x2="363.2" y2="80.2" stroke="#151515" stroke-width="0.9"/>
<line x1="370.9" y1="71.5" x2="370.9" y2="78.5" stroke="#151515" stroke-width="0.9"/>
<line x1="369.65" y1="71.5" x2="372.15" y2="71.5" stroke="#151515" stroke-width="0.9"/>
<line x1="369.65" y1="78.5" x2="372.15" y2="78.5" stroke="#151515" stroke-width="0.9"/>
<line x1="379.85" y1="68" x2="379.85" y2="76" stroke="#151515" stroke-width="0.9"/>
<line x1="378.6" y1="68" x2="381.1" y2="68" stroke="#151515" stroke-width="0.9"/>
<line x1="378.6" y1="76" x2="381.1" y2="76" stroke="#151515" stroke-width="0.9"/>
<line x1="388.8" y1="62.8" x2="388.8" y2="71.8" stroke="#151515" stroke-width="0.9"/>
<line x1="387.55" y1="62.8" x2="390.05" y2="62.8" stroke="#151515" stroke-width="0.9"/>
<line x1="387.55" y1="71.8" x2="390.05" y2="71.8" stroke="#151515" stroke-width="0.9"/>
<path d="M263.5,118.6 C264.99,118.58 269.47,118.52 272.45,118.5 C275.43,118.48 278.42,118.5 281.4,118.5 C284.38,118.5 287.37,118.52 290.35,118.5 C293.33,118.48 296.32,118.45 299.3,118.4 C302.28,118.35 305.27,118.23 308.25,118.2 C311.23,118.17 314.22,118.17 317.2,118.2 C320.18,118.23 323.17,118.43 326.15,118.4 C329.13,118.37 332.12,118.07 335.1,118 C338.08,117.93 341.07,117.97 344.05,118 C347.03,118.03 350.02,118.3 353,118.2 C355.98,118.1 358.97,117.53 361.95,117.4 C364.93,117.27 367.92,117.4 370.9,117.4 C373.88,117.4 376.87,117.4 379.85,117.4 C382.83,117.4 387.31,117.4 388.8,117.4" fill="none" stroke="#e39420" stroke-width="1.5"/>
<path d="M263.5,118.3 C264.99,118.25 269.47,118.08 272.45,118 C275.43,117.92 278.42,117.88 281.4,117.8 C284.38,117.72 287.37,117.63 290.35,117.5 C293.33,117.37 296.32,117.15 299.3,117 C302.28,116.85 305.27,116.72 308.25,116.6 C311.23,116.48 314.22,116.23 317.2,116.3 C320.18,116.37 323.17,116.97 326.15,117 C329.13,117.03 332.12,116.67 335.1,116.5 C338.08,116.33 341.07,116.25 344.05,116 C347.03,115.75 350.02,115.7 353,115 C355.98,114.3 358.97,112.43 361.95,111.8 C364.93,111.17 367.92,112.08 370.9,111.2 C373.88,110.32 376.87,107.53 379.85,106.5 C382.83,105.47 387.31,105.25 388.8,105" fill="none" stroke="#4a1a5e" stroke-width="1.5"/>
<path d="M263.5,117.7 C264.99,117.18 269.47,115.37 272.45,114.6 C275.43,113.83 278.42,113.48 281.4,113.1 C284.38,112.72 287.37,113 290.35,112.3 C293.33,111.6 296.32,109.72 299.3,108.9 C302.28,108.08 305.27,107.85 308.25,107.4 C311.23,106.95 314.22,107.18 317.2,106.2 C320.18,105.22 323.17,102.95 326.15,101.5 C329.13,100.05 332.12,99.05 335.1,97.5 C338.08,95.95 341.07,94.53 344.05,92.2 C347.03,89.87 350.02,86 353,83.5 C355.98,81 358.97,78.62 361.95,77.2 C364.93,75.78 367.92,75.87 370.9,75 C373.88,74.13 376.87,73.28 379.85,72 C382.83,70.72 387.31,68.08 388.8,67.3" fill="none" stroke="#5aa83a" stroke-width="1.5"/>
<line x1="394.4" y1="66" x2="394.4" y2="117" stroke="#555" stroke-width="1.3"/>
<path d="M400.2,89.5 L400.2,88.25 M400.2,89.5 L401.39,89.11 M400.2,89.5 L400.93,90.51 M400.2,89.5 L399.47,90.51 M400.2,89.5 L399.01,89.11 " stroke="#1a1a1a" stroke-width="0.9" stroke-linecap="round" fill="none"/>
<circle cx="400.2" cy="89.5" r="0.69" fill="#1a1a1a"/>
<path d="M403.8,89.5 L403.8,88.25 M403.8,89.5 L404.99,89.11 M403.8,89.5 L404.53,90.51 M403.8,89.5 L403.07,90.51 M403.8,89.5 L402.61,89.11 " stroke="#1a1a1a" stroke-width="0.9" stroke-linecap="round" fill="none"/>
<circle cx="403.8" cy="89.5" r="0.69" fill="#1a1a1a"/>
<path d="M407.5,89.5 L407.5,88.25 M407.5,89.5 L408.69,89.11 M407.5,89.5 L408.23,90.51 M407.5,89.5 L406.77,90.51 M407.5,89.5 L406.31,89.11 " stroke="#1a1a1a" stroke-width="0.9" stroke-linecap="round" fill="none"/>
<circle cx="407.5" cy="89.5" r="0.69" fill="#1a1a1a"/>
<text x="10.74" y="177.3" font-size="12.9" textLength="8.38" lengthAdjust="spacingAndGlyphs" font-weight="bold">C</text>
<text x="155.59" y="177.1" font-size="11.88" textLength="10.1" lengthAdjust="spacingAndGlyphs" font-weight="bold">D</text>
<text x="55.48" y="191" font-size="8.6" textLength="13.87" lengthAdjust="spacingAndGlyphs">LP1</text>
<text x="177.32" y="191.2" font-size="8.6" textLength="43.05" lengthAdjust="spacingAndGlyphs">RPMI-8226</text>
<text x="107.16" y="212.1" font-size="8.6" textLength="27.42" lengthAdjust="spacingAndGlyphs">Vehicle</text>
<text x="106.83" y="235" font-size="8.6" textLength="32.68" lengthAdjust="spacingAndGlyphs">3 mg/kg</text>
<text x="106.74" y="258.2" font-size="8.6" textLength="32.78" lengthAdjust="spacingAndGlyphs">6 mg/kg</text>
<text x="241.26" y="212" font-size="8.6" textLength="26.92" lengthAdjust="spacingAndGlyphs">Vehicle</text>
<text x="240.93" y="235.1" font-size="8.6" textLength="32.89" lengthAdjust="spacingAndGlyphs">3 mg/kg</text>
<text x="240.84" y="258" font-size="8.6" textLength="32.99" lengthAdjust="spacingAndGlyphs">6 mg/kg</text>
<rect x="22" y="196.7" width="82" height="75.7" fill="url(#bgC)"/>
<rect x="22" y="262.6" width="82" height="4.8" fill="#999999"/>
<rect x="22" y="267.4" width="82" height="5" fill="#d6d6d6"/>
<line x1="23.5" y1="268.6" x2="23.5" y2="270.8" stroke="#3a3a3a" stroke-width="1.1"/>
<line x1="26.5" y1="268" x2="26.5" y2="269" stroke="#666" stroke-width="0.6"/>
<line x1="29.5" y1="268.6" x2="29.5" y2="270.8" stroke="#3a3a3a" stroke-width="1.1"/>
<line x1="32.5" y1="268" x2="32.5" y2="269" stroke="#666" stroke-width="0.6"/>
<line x1="35.5" y1="268.6" x2="35.5" y2="270.8" stroke="#3a3a3a" stroke-width="1.1"/>
<line x1="38.5" y1="268" x2="38.5" y2="269" stroke="#666" stroke-width="0.6"/>
<line x1="41.5" y1="268.6" x2="41.5" y2="270.8" stroke="#3a3a3a" stroke-width="1.1"/>
<line x1="44.5" y1="268" x2="44.5" y2="269" stroke="#666" stroke-width="0.6"/>
<line x1="47.5" y1="268.6" x2="47.5" y2="270.8" stroke="#3a3a3a" stroke-width="1.1"/>
<line x1="50.5" y1="268" x2="50.5" y2="269" stroke="#666" stroke-width="0.6"/>
<line x1="53.5" y1="268.6" x2="53.5" y2="270.8" stroke="#3a3a3a" stroke-width="1.1"/>
<line x1="56.5" y1="268" x2="56.5" y2="269" stroke="#666" stroke-width="0.6"/>
<line x1="59.5" y1="268.6" x2="59.5" y2="270.8" stroke="#3a3a3a" stroke-width="1.1"/>
<line x1="62.5" y1="268" x2="62.5" y2="269" stroke="#666" stroke-width="0.6"/>
<line x1="65.5" y1="268.6" x2="65.5" y2="270.8" stroke="#3a3a3a" stroke-width="1.1"/>
<line x1="68.5" y1="268" x2="68.5" y2="269" stroke="#666" stroke-width="0.6"/>
<line x1="71.5" y1="268.6" x2="71.5" y2="270.8" stroke="#3a3a3a" stroke-width="1.1"/>
<line x1="74.5" y1="268" x2="74.5" y2="269" stroke="#666" stroke-width="0.6"/>
<line x1="77.5" y1="268.6" x2="77.5" y2="270.8" stroke="#3a3a3a" stroke-width="1.1"/>
<line x1="80.5" y1="268" x2="80.5" y2="269" stroke="#666" stroke-width="0.6"/>
<line x1="83.5" y1="268.6" x2="83.5" y2="270.8" stroke="#3a3a3a" stroke-width="1.1"/>
<line x1="86.5" y1="268" x2="86.5" y2="269" stroke="#666" stroke-width="0.6"/>
<line x1="89.5" y1="268.6" x2="89.5" y2="270.8" stroke="#3a3a3a" stroke-width="1.1"/>
<line x1="92.5" y1="268" x2="92.5" y2="269" stroke="#666" stroke-width="0.6"/>
<line x1="95.5" y1="268.6" x2="95.5" y2="270.8" stroke="#3a3a3a" stroke-width="1.1"/>
<line x1="98.5" y1="268" x2="98.5" y2="269" stroke="#666" stroke-width="0.6"/>
<line x1="101.5" y1="268.6" x2="101.5" y2="270.8" stroke="#3a3a3a" stroke-width="1.1"/>
<line x1="23" y1="263.1" x2="23" y2="266.2" stroke="#cfcfcf" stroke-width="0.5"/>
<line x1="24.5" y1="263.1" x2="24.5" y2="266.2" stroke="#cfcfcf" stroke-width="0.5"/>
<line x1="26" y1="263.1" x2="26" y2="266.2" stroke="#cfcfcf" stroke-width="0.5"/>
<line x1="27.5" y1="263.1" x2="27.5" y2="266.2" stroke="#cfcfcf" stroke-width="0.5"/>
<line x1="29" y1="263.1" x2="29" y2="266.2" stroke="#cfcfcf" stroke-width="0.5"/>
<line x1="30.5" y1="263.1" x2="30.5" y2="266.2" stroke="#cfcfcf" stroke-width="0.5"/>
<line x1="32" y1="263.1" x2="32" y2="266.2" stroke="#cfcfcf" stroke-width="0.5"/>
<line x1="33.5" y1="263.1" x2="33.5" y2="266.2" stroke="#cfcfcf" stroke-width="0.5"/>
<line x1="35" y1="263.1" x2="35" y2="266.2" stroke="#cfcfcf" stroke-width="0.5"/>
<line x1="36.5" y1="263.1" x2="36.5" y2="266.2" stroke="#cfcfcf" stroke-width="0.5"/>
<line x1="38" y1="263.1" x2="38" y2="266.2" stroke="#cfcfcf" stroke-width="0.5"/>
<line x1="39.5" y1="263.1" x2="39.5" y2="266.2" stroke="#cfcfcf" stroke-width="0.5"/>
<line x1="41" y1="263.1" x2="41" y2="266.2" stroke="#cfcfcf" stroke-width="0.5"/>
<line x1="42.5" y1="263.1" x2="42.5" y2="266.2" stroke="#cfcfcf" stroke-width="0.5"/>
<line x1="44" y1="263.1" x2="44" y2="266.2" stroke="#cfcfcf" stroke-width="0.5"/>
<line x1="45.5" y1="263.1" x2="45.5" y2="266.2" stroke="#cfcfcf" stroke-width="0.5"/>
<line x1="47" y1="263.1" x2="47" y2="266.2" stroke="#cfcfcf" stroke-width="0.5"/>
<line x1="48.5" y1="263.1" x2="48.5" y2="266.2" stroke="#cfcfcf" stroke-width="0.5"/>
<line x1="50" y1="263.1" x2="50" y2="266.2" stroke="#cfcfcf" stroke-width="0.5"/>
<line x1="51.5" y1="263.1" x2="51.5" y2="266.2" stroke="#cfcfcf" stroke-width="0.5"/>
<line x1="53" y1="263.1" x2="53" y2="266.2" stroke="#cfcfcf" stroke-width="0.5"/>
<line x1="54.5" y1="263.1" x2="54.5" y2="266.2" stroke="#cfcfcf" stroke-width="0.5"/>
<line x1="56" y1="263.1" x2="56" y2="266.2" stroke="#cfcfcf" stroke-width="0.5"/>
<line x1="57.5" y1="263.1" x2="57.5" y2="266.2" stroke="#cfcfcf" stroke-width="0.5"/>
<line x1="59" y1="263.1" x2="59" y2="266.2" stroke="#cfcfcf" stroke-width="0.5"/>
<line x1="60.5" y1="263.1" x2="60.5" y2="266.2" stroke="#cfcfcf" stroke-width="0.5"/>
<line x1="62" y1="263.1" x2="62" y2="266.2" stroke="#cfcfcf" stroke-width="0.5"/>
<line x1="63.5" y1="263.1" x2="63.5" y2="266.2" stroke="#cfcfcf" stroke-width="0.5"/>
<line x1="65" y1="263.1" x2="65" y2="266.2" stroke="#cfcfcf" stroke-width="0.5"/>
<line x1="66.5" y1="263.1" x2="66.5" y2="266.2" stroke="#cfcfcf" stroke-width="0.5"/>
<line x1="68" y1="263.1" x2="68" y2="266.2" stroke="#cfcfcf" stroke-width="0.5"/>
<line x1="69.5" y1="263.1" x2="69.5" y2="266.2" stroke="#cfcfcf" stroke-width="0.5"/>
<line x1="71" y1="263.1" x2="71" y2="266.2" stroke="#cfcfcf" stroke-width="0.5"/>
<line x1="72.5" y1="263.1" x2="72.5" y2="266.2" stroke="#cfcfcf" stroke-width="0.5"/>
<line x1="74" y1="263.1" x2="74" y2="266.2" stroke="#cfcfcf" stroke-width="0.5"/>
<line x1="75.5" y1="263.1" x2="75.5" y2="266.2" stroke="#cfcfcf" stroke-width="0.5"/>
<line x1="77" y1="263.1" x2="77" y2="266.2" stroke="#cfcfcf" stroke-width="0.5"/>
<line x1="78.5" y1="263.1" x2="78.5" y2="266.2" stroke="#cfcfcf" stroke-width="0.5"/>
<line x1="80" y1="263.1" x2="80" y2="266.2" stroke="#cfcfcf" stroke-width="0.5"/>
<line x1="81.5" y1="263.1" x2="81.5" y2="266.2" stroke="#cfcfcf" stroke-width="0.5"/>
<line x1="83" y1="263.1" x2="83" y2="266.2" stroke="#cfcfcf" stroke-width="0.5"/>
<line x1="84.5" y1="263.1" x2="84.5" y2="266.2" stroke="#cfcfcf" stroke-width="0.5"/>
<line x1="86" y1="263.1" x2="86" y2="266.2" stroke="#cfcfcf" stroke-width="0.5"/>
<line x1="87.5" y1="263.1" x2="87.5" y2="266.2" stroke="#cfcfcf" stroke-width="0.5"/>
<line x1="89" y1="263.1" x2="89" y2="266.2" stroke="#cfcfcf" stroke-width="0.5"/>
<line x1="90.5" y1="263.1" x2="90.5" y2="266.2" stroke="#cfcfcf" stroke-width="0.5"/>
<line x1="92" y1="263.1" x2="92" y2="266.2" stroke="#cfcfcf" stroke-width="0.5"/>
<line x1="93.5" y1="263.1" x2="93.5" y2="266.2" stroke="#cfcfcf" stroke-width="0.5"/>
<line x1="95" y1="263.1" x2="95" y2="266.2" stroke="#cfcfcf" stroke-width="0.5"/>
<line x1="96.5" y1="263.1" x2="96.5" y2="266.2" stroke="#cfcfcf" stroke-width="0.5"/>
<line x1="98" y1="263.1" x2="98" y2="266.2" stroke="#cfcfcf" stroke-width="0.5"/>
<line x1="99.5" y1="263.1" x2="99.5" y2="266.2" stroke="#cfcfcf" stroke-width="0.5"/>
<line x1="101" y1="263.1" x2="101" y2="266.2" stroke="#cfcfcf" stroke-width="0.5"/>
<line x1="102.5" y1="263.1" x2="102.5" y2="266.2" stroke="#cfcfcf" stroke-width="0.5"/>
<path d="M40.54,208.4 C40.49,209.62 40.14,210.93 39.57,211.91 C39,212.88 38.03,213.72 37.11,214.26 C36.19,214.8 35.06,214.98 34.04,215.15 C33.01,215.32 32.02,215.35 30.94,215.27 C29.86,215.2 28.6,215.18 27.55,214.68 C26.51,214.18 25.24,213.34 24.65,212.29 C24.07,211.24 23.86,209.63 24.05,208.4 C24.25,207.17 25.11,205.9 25.82,204.94 C26.52,203.98 27.44,203.31 28.29,202.62 C29.14,201.94 29.95,201.25 30.94,200.82 C31.93,200.39 33.12,199.93 34.23,200.02 C35.34,200.11 36.67,200.62 37.62,201.38 C38.56,202.14 39.39,203.41 39.88,204.58 C40.36,205.75 40.59,207.18 40.54,208.4Z" fill="#a8a8a8" opacity="0.45" filter="url(#blur1)"/>
<path d="M39.32,207.4 C39.27,208.55 38.95,209.77 38.41,210.69 C37.88,211.61 36.98,212.39 36.11,212.89 C35.25,213.4 34.2,213.57 33.24,213.73 C32.27,213.89 31.35,213.92 30.34,213.85 C29.33,213.78 28.15,213.76 27.18,213.29 C26.2,212.82 25.01,212.03 24.46,211.05 C23.92,210.07 23.72,208.55 23.9,207.4 C24.08,206.25 24.89,205.06 25.55,204.15 C26.21,203.25 27.07,202.62 27.87,201.98 C28.66,201.34 29.41,200.69 30.34,200.29 C31.26,199.88 32.38,199.45 33.42,199.54 C34.46,199.63 35.7,200.1 36.58,200.81 C37.46,201.52 38.24,202.72 38.7,203.82 C39.15,204.91 39.37,206.25 39.32,207.4Z" fill="url(#tC0)" filter="url(#mottleC)"/>
<path d="M57.67,208.3 C57.49,209.28 56.81,210.29 56.26,211.09 C55.72,211.89 55.05,212.51 54.39,213.09 C53.74,213.66 53.09,214.25 52.36,214.53 C51.63,214.82 50.75,214.99 49.99,214.81 C49.23,214.62 48.42,214.04 47.79,213.42 C47.15,212.79 46.63,211.91 46.19,211.06 C45.76,210.2 45.33,209.25 45.16,208.3 C45,207.35 44.91,206.2 45.22,205.33 C45.52,204.47 46.25,203.59 47.01,203.1 C47.78,202.61 48.89,202.48 49.81,202.39 C50.73,202.3 51.64,202.43 52.55,202.57 C53.45,202.72 54.44,202.83 55.25,203.27 C56.06,203.71 56.99,204.39 57.39,205.23 C57.8,206.07 57.86,207.32 57.67,208.3Z" fill="#a8a8a8" opacity="0.45" filter="url(#blur1)"/>
<path d="M56.43,207.3 C56.26,208.2 55.64,209.14 55.14,209.87 C54.64,210.61 54.02,211.19 53.43,211.72 C52.83,212.25 52.24,212.79 51.56,213.05 C50.89,213.32 50.09,213.48 49.39,213.3 C48.69,213.13 47.95,212.6 47.37,212.02 C46.79,211.45 46.31,210.63 45.91,209.84 C45.51,209.06 45.11,208.18 44.97,207.3 C44.82,206.42 44.73,205.36 45.01,204.56 C45.3,203.76 45.96,202.95 46.66,202.5 C47.37,202.05 48.38,201.93 49.22,201.84 C50.07,201.76 50.9,201.88 51.74,202.01 C52.57,202.15 53.47,202.25 54.21,202.66 C54.95,203.06 55.81,203.69 56.18,204.47 C56.55,205.24 56.61,206.4 56.43,207.3Z" fill="url(#tC0)" filter="url(#mottleC)"/>
<path d="M74.56,208 C74.52,208.92 74.17,209.85 73.79,210.64 C73.41,211.43 72.89,212.13 72.27,212.74 C71.65,213.35 70.91,214 70.07,214.31 C69.24,214.61 68.14,214.78 67.27,214.59 C66.39,214.39 65.47,213.77 64.83,213.13 C64.2,212.49 63.78,211.58 63.44,210.73 C63.1,209.87 62.85,208.97 62.78,208 C62.72,207.03 62.7,205.88 63.02,204.93 C63.34,203.97 63.98,202.89 64.7,202.26 C65.42,201.63 66.47,201.27 67.35,201.16 C68.23,201.04 69.15,201.28 69.97,201.57 C70.79,201.85 71.59,202.29 72.26,202.88 C72.94,203.47 73.64,204.27 74.02,205.12 C74.4,205.97 74.6,207.08 74.56,208Z" fill="#a8a8a8" opacity="0.45" filter="url(#blur1)"/>
<path d="M73.37,207 C73.34,207.85 73.01,208.71 72.66,209.44 C72.31,210.17 71.84,210.81 71.27,211.38 C70.7,211.94 70.02,212.54 69.26,212.83 C68.49,213.11 67.49,213.27 66.69,213.09 C65.89,212.91 65.04,212.34 64.46,211.74 C63.87,211.15 63.49,210.31 63.18,209.52 C62.86,208.73 62.64,207.89 62.58,207 C62.51,206.11 62.5,205.04 62.8,204.16 C63.09,203.27 63.67,202.28 64.33,201.69 C65,201.11 65.96,200.78 66.76,200.68 C67.57,200.57 68.41,200.79 69.16,201.05 C69.92,201.32 70.65,201.72 71.27,202.27 C71.89,202.82 72.53,203.55 72.88,204.34 C73.23,205.12 73.41,206.15 73.37,207Z" fill="url(#tC0)" filter="url(#mottleC)"/>
<path d="M89.17,208.4 C89.4,209.61 89.59,211.01 89.4,212.11 C89.21,213.21 88.67,214.32 88,214.98 C87.33,215.64 86.28,215.96 85.39,216.08 C84.51,216.19 83.5,215.98 82.68,215.67 C81.86,215.36 81.04,214.89 80.46,214.23 C79.88,213.56 79.41,212.65 79.22,211.68 C79.03,210.71 79.14,209.49 79.32,208.4 C79.5,207.31 79.92,206.18 80.31,205.16 C80.69,204.14 81.14,203.1 81.61,202.27 C82.09,201.43 82.6,200.56 83.15,200.17 C83.69,199.78 84.31,199.67 84.88,199.95 C85.44,200.23 86.03,201.02 86.55,201.84 C87.08,202.66 87.58,203.79 88.01,204.88 C88.45,205.97 88.93,207.19 89.17,208.4Z" fill="#a8a8a8" opacity="0.45" filter="url(#blur1)"/>
<path d="M87.95,207.4 C88.16,208.53 88.34,209.85 88.16,210.88 C87.99,211.91 87.5,212.95 86.9,213.57 C86.3,214.19 85.35,214.49 84.55,214.6 C83.76,214.7 82.85,214.5 82.11,214.21 C81.37,213.93 80.63,213.49 80.11,212.86 C79.59,212.24 79.17,211.39 79,210.48 C78.83,209.57 78.92,208.42 79.09,207.4 C79.25,206.38 79.63,205.32 79.98,204.36 C80.32,203.4 80.72,202.43 81.15,201.65 C81.58,200.87 82.04,200.05 82.53,199.69 C83.02,199.32 83.58,199.22 84.09,199.48 C84.6,199.74 85.13,200.48 85.6,201.25 C86.07,202.02 86.52,203.08 86.91,204.1 C87.3,205.12 87.74,206.27 87.95,207.4Z" fill="url(#tC0)" filter="url(#mottleC)"/>
<path d="M101.71,209 C101.78,209.89 101.77,210.66 101.63,211.46 C101.5,212.25 101.34,213.08 100.9,213.77 C100.47,214.46 99.79,215.25 99.03,215.61 C98.26,215.96 97.13,216.11 96.31,215.89 C95.5,215.67 94.64,214.99 94.14,214.3 C93.64,213.61 93.42,212.62 93.32,211.74 C93.21,210.86 93.35,209.92 93.51,209 C93.67,208.08 93.96,207.12 94.29,206.23 C94.62,205.34 95.04,204.37 95.48,203.66 C95.91,202.94 96.42,202.25 96.92,201.93 C97.43,201.62 97.98,201.52 98.5,201.76 C99.02,202 99.59,202.64 100.04,203.37 C100.5,204.1 100.94,205.21 101.21,206.15 C101.49,207.09 101.64,208.11 101.71,209Z" fill="#a8a8a8" opacity="0.45" filter="url(#blur1)"/>
<path d="M100.57,208 C100.63,208.82 100.62,209.54 100.5,210.27 C100.38,211.01 100.23,211.77 99.85,212.41 C99.46,213.05 98.86,213.78 98.18,214.11 C97.5,214.43 96.49,214.57 95.77,214.37 C95.04,214.16 94.28,213.54 93.84,212.9 C93.39,212.26 93.2,211.35 93.1,210.53 C93.01,209.71 93.13,208.85 93.28,208 C93.42,207.15 93.68,206.26 93.97,205.44 C94.26,204.62 94.63,203.72 95.02,203.06 C95.41,202.4 95.86,201.76 96.31,201.47 C96.76,201.18 97.25,201.09 97.71,201.31 C98.17,201.53 98.68,202.12 99.08,202.79 C99.49,203.47 99.88,204.5 100.12,205.36 C100.37,206.23 100.5,207.18 100.57,208Z" fill="url(#tC0)" filter="url(#mottleC)"/>
<path d="M39.78,232.8 C39.75,233.72 39.57,234.72 39.21,235.53 C38.85,236.34 38.28,237.18 37.64,237.68 C37,238.18 36.1,238.46 35.35,238.52 C34.6,238.58 33.82,238.3 33.14,238.04 C32.46,237.79 31.86,237.42 31.26,236.97 C30.67,236.51 30,236.02 29.57,235.33 C29.14,234.63 28.72,233.66 28.68,232.8 C28.64,231.94 28.93,230.89 29.33,230.14 C29.72,229.4 30.43,228.81 31.05,228.33 C31.68,227.86 32.36,227.53 33.09,227.28 C33.81,227.04 34.62,226.8 35.39,226.88 C36.17,226.95 37.1,227.23 37.76,227.75 C38.42,228.27 39.01,229.15 39.35,229.99 C39.68,230.84 39.8,231.88 39.78,232.8Z" fill="#a8a8a8" opacity="0.45" filter="url(#blur1)"/>
<path d="M38.55,231.8 C38.53,232.65 38.36,233.56 38.04,234.3 C37.71,235.05 37.2,235.82 36.61,236.27 C36.03,236.73 35.22,236.99 34.54,237.04 C33.87,237.1 33.16,236.84 32.54,236.61 C31.93,236.37 31.38,236.04 30.84,235.62 C30.3,235.21 29.7,234.75 29.31,234.11 C28.91,233.48 28.54,232.59 28.5,231.8 C28.46,231.01 28.73,230.05 29.09,229.36 C29.44,228.68 30.08,228.14 30.65,227.71 C31.22,227.27 31.84,226.97 32.49,226.74 C33.15,226.52 33.88,226.3 34.58,226.37 C35.29,226.44 36.13,226.69 36.72,227.17 C37.32,227.65 37.86,228.46 38.16,229.23 C38.47,230 38.57,230.95 38.55,231.8Z" fill="url(#tC1)" filter="url(#mottleC)"/>
<path d="M56.17,233.2 C56.07,233.92 55.72,234.71 55.34,235.31 C54.96,235.9 54.41,236.4 53.91,236.77 C53.41,237.15 52.87,237.4 52.32,237.57 C51.78,237.73 51.21,237.84 50.64,237.76 C50.06,237.68 49.4,237.48 48.88,237.09 C48.35,236.7 47.8,236.05 47.49,235.4 C47.18,234.75 47.01,233.9 47.01,233.2 C47.01,232.5 47.21,231.77 47.5,231.19 C47.78,230.6 48.22,230.08 48.72,229.67 C49.21,229.26 49.83,228.92 50.48,228.74 C51.12,228.55 51.88,228.47 52.56,228.56 C53.25,228.66 54,228.92 54.56,229.32 C55.12,229.72 55.64,230.33 55.91,230.98 C56.18,231.63 56.26,232.48 56.17,233.2Z" fill="#a8a8a8" opacity="0.45" filter="url(#blur1)"/>
<path d="M54.94,232.2 C54.85,232.85 54.54,233.56 54.2,234.09 C53.87,234.62 53.38,235.06 52.93,235.4 C52.49,235.74 52.01,235.96 51.53,236.11 C51.05,236.26 50.55,236.36 50.04,236.29 C49.53,236.22 48.94,236.04 48.48,235.68 C48.01,235.33 47.52,234.75 47.25,234.17 C46.97,233.59 46.82,232.83 46.82,232.2 C46.82,231.57 47,230.92 47.25,230.4 C47.51,229.87 47.89,229.4 48.33,229.04 C48.77,228.67 49.32,228.37 49.89,228.2 C50.46,228.04 51.14,227.96 51.74,228.05 C52.35,228.13 53.02,228.36 53.51,228.72 C54.01,229.08 54.47,229.63 54.71,230.21 C54.94,230.79 55.02,231.55 54.94,232.2Z" fill="url(#tC1)" filter="url(#mottleC)"/>
<path d="M73.72,233 C73.72,233.75 73.46,234.6 73.14,235.2 C72.83,235.81 72.32,236.25 71.86,236.64 C71.39,237.04 70.9,237.35 70.35,237.57 C69.81,237.79 69.17,238.05 68.57,237.99 C67.97,237.93 67.24,237.68 66.77,237.23 C66.29,236.78 65.91,235.99 65.72,235.28 C65.54,234.58 65.57,233.73 65.64,233 C65.72,232.27 65.91,231.54 66.18,230.9 C66.44,230.27 66.8,229.62 67.22,229.19 C67.64,228.76 68.19,228.43 68.7,228.3 C69.21,228.16 69.77,228.24 70.28,228.38 C70.8,228.53 71.32,228.78 71.79,229.17 C72.26,229.56 72.8,230.07 73.12,230.71 C73.44,231.35 73.71,232.25 73.72,233Z" fill="#a8a8a8" opacity="0.45" filter="url(#blur1)"/>
<path d="M72.48,232 C72.48,232.67 72.25,233.44 71.98,233.98 C71.71,234.53 71.26,234.92 70.85,235.28 C70.45,235.63 70.02,235.91 69.54,236.11 C69.07,236.32 68.51,236.54 67.99,236.49 C67.47,236.44 66.83,236.21 66.42,235.81 C66,235.4 65.67,234.69 65.51,234.05 C65.34,233.42 65.37,232.66 65.44,232 C65.5,231.34 65.67,230.68 65.9,230.11 C66.13,229.54 66.45,228.96 66.81,228.57 C67.18,228.18 67.66,227.89 68.11,227.77 C68.55,227.65 69.03,227.71 69.48,227.84 C69.93,227.97 70.38,228.2 70.8,228.55 C71.21,228.9 71.68,229.37 71.96,229.94 C72.24,230.52 72.47,231.33 72.48,232Z" fill="url(#tC1)" filter="url(#mottleC)"/>
<path d="M86.63,233.7 C86.7,234.38 86.72,235.06 86.61,235.7 C86.5,236.35 86.32,237.01 85.98,237.56 C85.63,238.11 85.13,238.7 84.56,239.01 C84,239.31 83.19,239.51 82.57,239.38 C81.95,239.24 81.24,238.76 80.84,238.19 C80.44,237.62 80.25,236.71 80.19,235.97 C80.13,235.22 80.31,234.42 80.45,233.7 C80.59,232.98 80.8,232.33 81.03,231.67 C81.26,231.01 81.5,230.28 81.82,229.74 C82.14,229.2 82.55,228.63 82.95,228.42 C83.36,228.2 83.84,228.22 84.24,228.44 C84.65,228.66 85.05,229.21 85.38,229.74 C85.7,230.28 85.98,230.99 86.19,231.65 C86.4,232.31 86.56,233.02 86.63,233.7Z" fill="#a8a8a8" opacity="0.45" filter="url(#blur1)"/>
<path d="M85.49,232.7 C85.55,233.31 85.56,233.93 85.47,234.51 C85.38,235.09 85.22,235.69 84.93,236.18 C84.63,236.68 84.21,237.21 83.72,237.49 C83.24,237.76 82.55,237.94 82.02,237.82 C81.49,237.7 80.88,237.26 80.54,236.75 C80.21,236.24 80.05,235.42 79.99,234.74 C79.94,234.07 80.1,233.35 80.22,232.7 C80.34,232.05 80.52,231.46 80.71,230.87 C80.9,230.27 81.11,229.62 81.39,229.13 C81.66,228.64 82,228.13 82.35,227.94 C82.69,227.74 83.11,227.76 83.45,227.96 C83.79,228.16 84.14,228.65 84.41,229.13 C84.69,229.61 84.93,230.26 85.11,230.85 C85.29,231.45 85.43,232.09 85.49,232.7Z" fill="url(#tC1)" filter="url(#mottleC)"/>
<path d="M100.63,234.6 C100.72,235.39 100.67,236.24 100.49,236.91 C100.31,237.58 99.96,238.14 99.56,238.6 C99.16,239.07 98.65,239.44 98.1,239.7 C97.54,239.97 96.85,240.22 96.22,240.19 C95.59,240.16 94.8,239.98 94.31,239.51 C93.81,239.04 93.38,238.19 93.25,237.37 C93.12,236.55 93.31,235.45 93.53,234.6 C93.74,233.75 94.21,232.94 94.57,232.3 C94.93,231.66 95.32,231.18 95.68,230.76 C96.03,230.34 96.34,229.99 96.69,229.79 C97.03,229.58 97.37,229.44 97.74,229.53 C98.11,229.62 98.52,229.88 98.9,230.32 C99.27,230.76 99.7,231.45 99.98,232.17 C100.27,232.88 100.55,233.81 100.63,234.6Z" fill="#a8a8a8" opacity="0.45" filter="url(#blur1)"/>
<path d="M99.43,233.6 C99.5,234.32 99.46,235.09 99.3,235.7 C99.15,236.31 98.85,236.82 98.51,237.24 C98.17,237.66 97.74,238 97.26,238.24 C96.79,238.48 96.2,238.71 95.66,238.68 C95.12,238.65 94.45,238.49 94.03,238.06 C93.61,237.64 93.25,236.86 93.13,236.12 C93.02,235.38 93.18,234.37 93.37,233.6 C93.55,232.83 93.95,232.09 94.26,231.51 C94.56,230.93 94.9,230.49 95.2,230.11 C95.5,229.73 95.77,229.41 96.06,229.22 C96.36,229.04 96.65,228.91 96.96,228.99 C97.28,229.07 97.63,229.31 97.95,229.71 C98.27,230.11 98.63,230.74 98.88,231.39 C99.12,232.04 99.36,232.88 99.43,233.6Z" fill="url(#tC1)" filter="url(#mottleC)"/>
<path d="M39.27,256.5 C39.29,257.18 39.09,257.99 38.8,258.56 C38.51,259.13 37.99,259.58 37.53,259.92 C37.08,260.27 36.58,260.45 36.07,260.61 C35.56,260.76 35.02,260.92 34.49,260.86 C33.95,260.8 33.3,260.64 32.85,260.25 C32.4,259.87 31.99,259.18 31.81,258.56 C31.63,257.93 31.68,257.13 31.78,256.5 C31.88,255.87 32.14,255.3 32.39,254.79 C32.65,254.28 32.93,253.81 33.3,253.43 C33.66,253.05 34.09,252.69 34.56,252.52 C35.02,252.35 35.57,252.31 36.06,252.41 C36.56,252.51 37.07,252.77 37.51,253.11 C37.95,253.46 38.41,253.93 38.7,254.5 C38.99,255.06 39.25,255.82 39.27,256.5Z" fill="#a8a8a8" opacity="0.45" filter="url(#blur1)"/>
<path d="M38.02,255.5 C38.03,256.1 37.86,256.82 37.61,257.32 C37.36,257.83 36.92,258.23 36.52,258.53 C36.13,258.84 35.7,259 35.26,259.14 C34.82,259.28 34.36,259.42 33.9,259.36 C33.44,259.31 32.87,259.17 32.49,258.83 C32.11,258.49 31.75,257.88 31.59,257.32 C31.44,256.77 31.49,256.06 31.57,255.5 C31.65,254.94 31.88,254.44 32.1,253.98 C32.31,253.53 32.56,253.11 32.87,252.78 C33.18,252.44 33.56,252.12 33.96,251.97 C34.36,251.82 34.83,251.79 35.26,251.87 C35.68,251.96 36.12,252.19 36.5,252.5 C36.88,252.81 37.28,253.23 37.53,253.73 C37.78,254.23 38,254.9 38.02,255.5Z" fill="url(#tC2)" filter="url(#mottleC)"/>
<path d="M55.11,256 C55.08,256.67 54.9,257.38 54.7,257.95 C54.49,258.52 54.2,259.01 53.88,259.42 C53.57,259.83 53.21,260.19 52.82,260.41 C52.43,260.63 51.97,260.8 51.53,260.73 C51.1,260.67 50.59,260.42 50.23,260.01 C49.86,259.59 49.52,258.9 49.34,258.24 C49.15,257.57 49.1,256.71 49.15,256 C49.19,255.29 49.39,254.56 49.61,253.98 C49.83,253.4 50.16,252.9 50.49,252.52 C50.82,252.14 51.21,251.86 51.59,251.7 C51.98,251.55 52.42,251.48 52.82,251.58 C53.23,251.68 53.68,251.92 54.02,252.3 C54.36,252.69 54.7,253.29 54.88,253.91 C55.06,254.52 55.14,255.33 55.11,256Z" fill="#a8a8a8" opacity="0.45" filter="url(#blur1)"/>
<path d="M53.91,255 C53.88,255.6 53.74,256.23 53.57,256.74 C53.4,257.25 53.15,257.69 52.89,258.06 C52.63,258.42 52.34,258.75 52.01,258.94 C51.69,259.14 51.31,259.29 50.95,259.23 C50.59,259.17 50.17,258.95 49.87,258.58 C49.56,258.21 49.28,257.59 49.13,257 C48.98,256.4 48.94,255.63 48.97,255 C49.01,254.37 49.17,253.71 49.36,253.19 C49.54,252.67 49.81,252.23 50.08,251.89 C50.36,251.55 50.68,251.3 51,251.16 C51.32,251.02 51.68,250.96 52.02,251.05 C52.35,251.14 52.72,251.35 53.01,251.7 C53.29,252.04 53.57,252.58 53.72,253.13 C53.87,253.68 53.93,254.4 53.91,255Z" fill="url(#tC2)" filter="url(#mottleC)"/>
<path d="M71.9,255.2 C71.95,255.87 71.92,256.59 71.77,257.21 C71.61,257.83 71.34,258.47 70.98,258.92 C70.62,259.36 70.09,259.73 69.6,259.89 C69.1,260.05 68.5,260.03 68,259.87 C67.5,259.71 66.99,259.38 66.61,258.95 C66.22,258.52 65.89,257.92 65.7,257.3 C65.52,256.67 65.45,255.89 65.5,255.2 C65.55,254.51 65.76,253.74 66.01,253.14 C66.25,252.53 66.62,251.97 66.98,251.57 C67.34,251.17 67.76,250.86 68.17,250.72 C68.58,250.57 69.03,250.55 69.43,250.7 C69.84,250.85 70.26,251.17 70.61,251.59 C70.95,252.01 71.26,252.62 71.48,253.22 C71.69,253.82 71.85,254.53 71.9,255.2Z" fill="#a8a8a8" opacity="0.45" filter="url(#blur1)"/>
<path d="M70.71,254.2 C70.75,254.79 70.73,255.44 70.6,256 C70.47,256.55 70.24,257.12 69.94,257.52 C69.63,257.92 69.19,258.25 68.77,258.39 C68.36,258.53 67.85,258.51 67.43,258.37 C67.01,258.23 66.57,257.93 66.25,257.55 C65.93,257.16 65.64,256.63 65.49,256.08 C65.33,255.52 65.27,254.82 65.32,254.2 C65.36,253.58 65.54,252.9 65.74,252.35 C65.95,251.81 66.26,251.32 66.57,250.96 C66.87,250.6 67.23,250.33 67.57,250.2 C67.91,250.07 68.29,250.05 68.63,250.18 C68.97,250.31 69.34,250.6 69.62,250.98 C69.91,251.35 70.18,251.89 70.36,252.43 C70.54,252.97 70.67,253.61 70.71,254.2Z" fill="url(#tC2)" filter="url(#mottleC)"/>
<path d="M86.55,255.5 C86.5,256.17 86.26,256.85 86.01,257.4 C85.77,257.94 85.43,258.39 85.09,258.76 C84.74,259.13 84.36,259.43 83.95,259.61 C83.54,259.79 83.06,259.9 82.62,259.83 C82.18,259.76 81.67,259.54 81.28,259.17 C80.9,258.8 80.5,258.22 80.29,257.6 C80.08,256.99 79.96,256.18 80,255.5 C80.04,254.82 80.26,254.09 80.51,253.55 C80.76,253.01 81.16,252.59 81.52,252.26 C81.88,251.92 82.27,251.7 82.68,251.54 C83.09,251.37 83.52,251.22 83.97,251.26 C84.41,251.3 84.95,251.43 85.35,251.78 C85.74,252.13 86.16,252.74 86.36,253.36 C86.56,253.98 86.61,254.83 86.55,255.5Z" fill="#a8a8a8" opacity="0.45" filter="url(#blur1)"/>
<path d="M85.33,254.5 C85.28,255.1 85.08,255.7 84.87,256.18 C84.67,256.67 84.39,257.07 84.1,257.39 C83.81,257.72 83.49,258 83.14,258.16 C82.8,258.31 82.4,258.41 82.03,258.35 C81.66,258.28 81.23,258.09 80.91,257.76 C80.58,257.43 80.25,256.91 80.08,256.37 C79.9,255.83 79.8,255.1 79.83,254.5 C79.86,253.9 80.05,253.25 80.26,252.77 C80.47,252.29 80.8,251.91 81.1,251.62 C81.41,251.32 81.74,251.13 82.08,250.98 C82.42,250.83 82.79,250.69 83.16,250.73 C83.53,250.77 83.98,250.88 84.32,251.19 C84.65,251.5 85,252.05 85.17,252.6 C85.33,253.15 85.38,253.9 85.33,254.5Z" fill="url(#tC2)" filter="url(#mottleC)"/>
<path d="M100.25,255.6 C100.23,256.23 100.14,256.85 99.97,257.44 C99.8,258.04 99.58,258.71 99.23,259.16 C98.88,259.6 98.35,260 97.87,260.11 C97.4,260.23 96.83,260.05 96.37,259.84 C95.92,259.62 95.53,259.23 95.17,258.83 C94.8,258.44 94.43,258.02 94.17,257.48 C93.91,256.94 93.65,256.24 93.62,255.6 C93.59,254.96 93.76,254.16 94,253.61 C94.25,253.06 94.72,252.63 95.12,252.29 C95.52,251.95 95.96,251.74 96.41,251.57 C96.86,251.41 97.36,251.23 97.84,251.3 C98.31,251.36 98.89,251.57 99.28,251.96 C99.66,252.35 99.97,253.04 100.14,253.65 C100.3,254.26 100.28,254.97 100.25,255.6Z" fill="#a8a8a8" opacity="0.45" filter="url(#blur1)"/>
<path d="M99.08,254.6 C99.05,255.16 98.98,255.71 98.84,256.23 C98.69,256.76 98.5,257.36 98.21,257.76 C97.91,258.15 97.46,258.5 97.06,258.6 C96.65,258.7 96.17,258.54 95.78,258.35 C95.4,258.17 95.07,257.81 94.76,257.47 C94.45,257.12 94.13,256.74 93.92,256.27 C93.7,255.79 93.47,255.17 93.45,254.6 C93.42,254.03 93.56,253.33 93.77,252.84 C93.99,252.35 94.38,251.96 94.72,251.66 C95.06,251.36 95.43,251.18 95.82,251.03 C96.2,250.88 96.62,250.73 97.02,250.79 C97.43,250.84 97.92,251.03 98.25,251.38 C98.57,251.72 98.84,252.33 98.98,252.87 C99.11,253.41 99.1,254.04 99.08,254.6Z" fill="url(#tC2)" filter="url(#mottleC)"/>
<rect x="156.2" y="197" width="80.8" height="74.6" fill="url(#bgD)"/>
<rect x="156.2" y="260.9" width="80.8" height="4.2" fill="#b8b8b8"/>
<rect x="156.2" y="260.9" width="80.8" height="0.8" fill="#9a9a9a"/>
<rect x="156.2" y="265.1" width="80.8" height="6.5" fill="#e2e2e2"/>
<line x1="158.2" y1="267.2" x2="158.2" y2="268.7" stroke="#666" stroke-width="1.0"/>
<line x1="163.1" y1="267.2" x2="163.1" y2="268.7" stroke="#666" stroke-width="1.0"/>
<line x1="168" y1="267.2" x2="168" y2="268.7" stroke="#666" stroke-width="1.0"/>
<line x1="172.9" y1="267.2" x2="172.9" y2="268.7" stroke="#666" stroke-width="1.0"/>
<line x1="177.8" y1="267.2" x2="177.8" y2="268.7" stroke="#666" stroke-width="1.0"/>
<line x1="182.7" y1="267.2" x2="182.7" y2="268.7" stroke="#666" stroke-width="1.0"/>
<line x1="187.6" y1="267.2" x2="187.6" y2="268.7" stroke="#666" stroke-width="1.0"/>
<line x1="192.5" y1="267.2" x2="192.5" y2="268.7" stroke="#666" stroke-width="1.0"/>
<line x1="197.4" y1="267.2" x2="197.4" y2="268.7" stroke="#666" stroke-width="1.0"/>
<line x1="202.3" y1="267.2" x2="202.3" y2="268.7" stroke="#666" stroke-width="1.0"/>
<line x1="207.2" y1="267.2" x2="207.2" y2="268.7" stroke="#666" stroke-width="1.0"/>
<line x1="212.1" y1="267.2" x2="212.1" y2="268.7" stroke="#666" stroke-width="1.0"/>
<line x1="217" y1="267.2" x2="217" y2="268.7" stroke="#666" stroke-width="1.0"/>
<line x1="221.9" y1="267.2" x2="221.9" y2="268.7" stroke="#666" stroke-width="1.0"/>
<line x1="226.8" y1="267.2" x2="226.8" y2="268.7" stroke="#666" stroke-width="1.0"/>
<line x1="231.7" y1="267.2" x2="231.7" y2="268.7" stroke="#666" stroke-width="1.0"/>
<ellipse cx="211.3" cy="262.5" rx="2.4" ry="1.6" fill="#fff" filter="url(#blur06)"/>
<path d="M172.78,207 C172.76,208.02 172.39,209.24 171.91,210.16 C171.43,211.08 170.63,211.94 169.88,212.51 C169.14,213.08 168.25,213.44 167.43,213.58 C166.62,213.73 165.77,213.63 165.01,213.37 C164.24,213.11 163.48,212.61 162.85,212.01 C162.22,211.41 161.63,210.6 161.21,209.76 C160.8,208.93 160.47,207.93 160.38,207 C160.29,206.07 160.37,205.03 160.69,204.2 C161.01,203.37 161.62,202.56 162.3,202.02 C162.99,201.48 163.95,201.12 164.82,200.96 C165.7,200.79 166.68,200.85 167.56,201.03 C168.44,201.2 169.34,201.52 170.09,202.02 C170.84,202.52 171.61,203.2 172.05,204.03 C172.5,204.86 172.8,205.98 172.78,207Z" fill="#a8a8a8" opacity="0.45" filter="url(#blur1)"/>
<path d="M171.53,206 C171.51,206.94 171.18,208.07 170.73,208.92 C170.29,209.77 169.56,210.57 168.88,211.1 C168.19,211.62 167.38,211.95 166.63,212.09 C165.89,212.22 165.11,212.13 164.41,211.89 C163.71,211.65 163.01,211.19 162.43,210.63 C161.85,210.07 161.31,209.32 160.93,208.55 C160.55,207.78 160.25,206.86 160.17,206 C160.09,205.14 160.16,204.18 160.45,203.42 C160.74,202.65 161.3,201.89 161.93,201.39 C162.56,200.89 163.44,200.57 164.24,200.42 C165.04,200.27 165.94,200.32 166.75,200.48 C167.55,200.64 168.38,200.94 169.07,201.4 C169.75,201.86 170.46,202.49 170.87,203.25 C171.28,204.02 171.55,205.06 171.53,206Z" fill="url(#tD0)" filter="url(#mottleD)"/>
<path d="M188.25,209 C188.37,210.08 188.33,211.41 188.01,212.41 C187.7,213.42 187.04,214.41 186.37,215.04 C185.7,215.67 184.79,216.05 183.97,216.22 C183.15,216.4 182.25,216.35 181.45,216.11 C180.66,215.86 179.83,215.4 179.2,214.75 C178.58,214.11 178.03,213.17 177.7,212.21 C177.37,211.25 177.24,210.09 177.25,209 C177.26,207.91 177.45,206.72 177.78,205.7 C178.11,204.67 178.63,203.57 179.24,202.85 C179.86,202.12 180.71,201.53 181.48,201.34 C182.25,201.16 183.14,201.38 183.86,201.74 C184.57,202.1 185.22,202.8 185.8,203.49 C186.37,204.19 186.89,204.99 187.3,205.91 C187.71,206.83 188.13,207.92 188.25,209Z" fill="#a8a8a8" opacity="0.45" filter="url(#blur1)"/>
<path d="M187.05,208 C187.16,209.01 187.11,210.25 186.83,211.19 C186.54,212.13 185.95,213.04 185.34,213.64 C184.72,214.23 183.9,214.58 183.15,214.74 C182.41,214.91 181.59,214.86 180.87,214.63 C180.14,214.4 179.39,213.98 178.82,213.37 C178.25,212.76 177.75,211.89 177.45,211 C177.16,210.1 177.03,209.01 177.05,208 C177.06,206.99 177.23,205.88 177.53,204.92 C177.83,203.96 178.3,202.94 178.86,202.26 C179.42,201.58 180.19,201.03 180.89,200.86 C181.59,200.68 182.4,200.89 183.05,201.23 C183.7,201.56 184.29,202.21 184.81,202.86 C185.34,203.51 185.81,204.26 186.18,205.12 C186.56,205.97 186.94,206.99 187.05,208Z" fill="url(#tD0)" filter="url(#mottleD)"/>
<path d="M205.19,210 C205.17,211.08 204.87,212.18 204.49,213.05 C204.11,213.91 203.54,214.61 202.94,215.19 C202.34,215.78 201.65,216.25 200.89,216.56 C200.14,216.87 199.25,217.12 198.42,217.04 C197.59,216.95 196.61,216.65 195.93,216.04 C195.25,215.44 194.61,214.42 194.33,213.42 C194.04,212.41 194.05,211.08 194.21,210 C194.37,208.92 194.84,207.82 195.28,206.93 C195.72,206.05 196.3,205.31 196.87,204.7 C197.44,204.08 198.04,203.56 198.69,203.25 C199.34,202.93 200.06,202.7 200.78,202.81 C201.49,202.92 202.31,203.27 202.96,203.9 C203.6,204.52 204.27,205.55 204.64,206.57 C205.02,207.59 205.22,208.92 205.19,210Z" fill="#a8a8a8" opacity="0.45" filter="url(#blur1)"/>
<path d="M203.98,209 C203.95,210.01 203.68,211.03 203.34,211.84 C203,212.64 202.48,213.29 201.94,213.84 C201.39,214.38 200.76,214.83 200.08,215.11 C199.4,215.4 198.59,215.63 197.84,215.55 C197.09,215.47 196.2,215.19 195.58,214.63 C194.97,214.07 194.39,213.12 194.13,212.18 C193.87,211.24 193.89,210.01 194.03,209 C194.17,207.99 194.59,206.97 195,206.14 C195.4,205.32 195.92,204.63 196.44,204.06 C196.95,203.49 197.5,203 198.09,202.71 C198.68,202.42 199.33,202.2 199.97,202.3 C200.62,202.4 201.37,202.73 201.95,203.31 C202.53,203.9 203.14,204.86 203.48,205.81 C203.82,206.75 204,207.99 203.98,209Z" fill="url(#tD0)" filter="url(#mottleD)"/>
<path d="M221.94,208.7 C221.75,209.78 221.46,210.84 221.06,211.8 C220.66,212.77 220.16,213.83 219.56,214.5 C218.96,215.18 218.17,215.68 217.48,215.84 C216.78,216 216.05,215.75 215.38,215.45 C214.71,215.16 214.09,214.69 213.46,214.09 C212.83,213.5 212.1,212.8 211.6,211.9 C211.09,211 210.56,209.78 210.42,208.7 C210.29,207.62 210.45,206.38 210.79,205.42 C211.13,204.47 211.77,203.67 212.45,202.97 C213.14,202.27 213.96,201.63 214.89,201.23 C215.82,200.84 217.03,200.47 218.04,200.62 C219.04,200.77 220.24,201.35 220.92,202.13 C221.61,202.92 222,204.23 222.17,205.33 C222.34,206.42 222.12,207.62 221.94,208.7Z" fill="#a8a8a8" opacity="0.45" filter="url(#blur1)"/>
<path d="M220.76,207.7 C220.59,208.71 220.32,209.69 219.96,210.6 C219.6,211.5 219.13,212.49 218.59,213.12 C218.04,213.74 217.32,214.21 216.68,214.36 C216.05,214.51 215.38,214.28 214.77,214 C214.16,213.73 213.59,213.29 213.02,212.73 C212.44,212.18 211.77,211.53 211.31,210.69 C210.85,209.85 210.36,208.71 210.24,207.7 C210.11,206.69 210.27,205.53 210.57,204.64 C210.88,203.75 211.47,203 212.09,202.35 C212.72,201.7 213.47,201.1 214.32,200.73 C215.17,200.37 216.28,200.01 217.19,200.15 C218.11,200.29 219.2,200.84 219.83,201.57 C220.46,202.3 220.82,203.53 220.97,204.55 C221.13,205.57 220.93,206.69 220.76,207.7Z" fill="url(#tD0)" filter="url(#mottleD)"/>
<path d="M235.13,207.3 C234.99,208.29 234.65,209.26 234.28,210.15 C233.9,211.04 233.45,211.99 232.88,212.65 C232.3,213.3 231.54,213.89 230.83,214.09 C230.12,214.28 229.31,214.1 228.62,213.81 C227.92,213.53 227.3,212.97 226.68,212.38 C226.06,211.79 225.4,211.12 224.92,210.28 C224.43,209.43 223.88,208.32 223.77,207.3 C223.66,206.28 223.84,205.03 224.24,204.18 C224.64,203.33 225.45,202.69 226.16,202.21 C226.87,201.73 227.67,201.51 228.48,201.29 C229.29,201.06 230.15,200.81 231,200.88 C231.85,200.95 232.9,201.15 233.59,201.7 C234.28,202.26 234.88,203.27 235.13,204.2 C235.39,205.13 235.27,206.31 235.13,207.3Z" fill="#a8a8a8" opacity="0.45" filter="url(#blur1)"/>
<path d="M233.94,206.3 C233.81,207.22 233.5,208.11 233.16,208.94 C232.82,209.77 232.41,210.65 231.89,211.25 C231.37,211.86 230.67,212.41 230.03,212.59 C229.38,212.77 228.64,212.6 228.01,212.33 C227.38,212.07 226.81,211.55 226.25,211.01 C225.69,210.46 225.09,209.84 224.65,209.06 C224.21,208.27 223.71,207.24 223.61,206.3 C223.5,205.36 223.67,204.2 224.03,203.41 C224.4,202.63 225.14,202.03 225.78,201.59 C226.43,201.14 227.16,200.93 227.89,200.73 C228.63,200.52 229.41,200.28 230.18,200.35 C230.96,200.41 231.91,200.6 232.54,201.11 C233.16,201.63 233.7,202.56 233.94,203.43 C234.17,204.29 234.06,205.38 233.94,206.3Z" fill="url(#tD0)" filter="url(#mottleD)"/>
<path d="M169.84,231.8 C169.88,232.64 169.8,233.54 169.55,234.32 C169.29,235.1 168.86,235.92 168.3,236.49 C167.74,237.06 166.96,237.54 166.21,237.74 C165.46,237.94 164.54,237.91 163.8,237.69 C163.06,237.46 162.31,236.97 161.75,236.41 C161.2,235.85 160.75,235.09 160.46,234.32 C160.16,233.55 160,232.66 160,231.8 C159.99,230.94 160.13,229.97 160.42,229.15 C160.72,228.33 161.21,227.45 161.78,226.85 C162.35,226.26 163.13,225.76 163.85,225.57 C164.57,225.38 165.42,225.45 166.12,225.71 C166.82,225.97 167.51,226.53 168.04,227.13 C168.57,227.73 169.01,228.53 169.31,229.31 C169.6,230.09 169.8,230.96 169.84,231.8Z" fill="#a8a8a8" opacity="0.45" filter="url(#blur1)"/>
<path d="M168.66,230.8 C168.7,231.57 168.63,232.39 168.4,233.11 C168.17,233.83 167.78,234.57 167.28,235.1 C166.78,235.62 166.07,236.06 165.39,236.24 C164.71,236.43 163.89,236.4 163.22,236.19 C162.55,235.99 161.88,235.54 161.37,235.02 C160.87,234.51 160.47,233.81 160.2,233.11 C159.94,232.41 159.79,231.59 159.79,230.8 C159.78,230.01 159.9,229.13 160.17,228.37 C160.44,227.62 160.88,226.81 161.39,226.27 C161.91,225.72 162.61,225.26 163.26,225.09 C163.92,224.92 164.68,224.98 165.31,225.22 C165.94,225.46 166.57,225.97 167.04,226.52 C167.52,227.07 167.91,227.8 168.18,228.51 C168.45,229.23 168.63,230.03 168.66,230.8Z" fill="url(#tD1)" filter="url(#mottleD)"/>
<path d="M185.23,232.4 C185.27,233.22 185.2,234.14 184.93,234.94 C184.66,235.74 184.2,236.59 183.62,237.18 C183.04,237.78 182.22,238.29 181.45,238.49 C180.67,238.7 179.72,238.66 178.97,238.41 C178.22,238.16 177.46,237.58 176.93,236.98 C176.39,236.37 176.02,235.54 175.78,234.78 C175.53,234.01 175.46,233.19 175.47,232.4 C175.47,231.61 175.57,230.8 175.81,230.04 C176.06,229.29 176.43,228.46 176.96,227.86 C177.49,227.27 178.25,226.71 178.99,226.49 C179.73,226.27 180.66,226.3 181.4,226.54 C182.14,226.78 182.86,227.34 183.41,227.91 C183.96,228.49 184.38,229.24 184.68,229.99 C184.98,230.74 185.19,231.58 185.23,232.4Z" fill="#a8a8a8" opacity="0.45" filter="url(#blur1)"/>
<path d="M184.04,231.4 C184.08,232.15 184.02,232.99 183.78,233.72 C183.53,234.45 183.12,235.23 182.59,235.77 C182.07,236.31 181.33,236.78 180.63,236.97 C179.93,237.15 179.07,237.12 178.39,236.89 C177.71,236.66 177.02,236.14 176.54,235.58 C176.06,235.03 175.72,234.27 175.5,233.57 C175.28,232.87 175.22,232.12 175.22,231.4 C175.23,230.68 175.31,229.94 175.54,229.25 C175.76,228.56 176.09,227.8 176.57,227.25 C177.05,226.71 177.74,226.2 178.41,226 C179.08,225.79 179.92,225.83 180.58,226.05 C181.25,226.26 181.91,226.77 182.4,227.3 C182.89,227.82 183.28,228.52 183.55,229.2 C183.82,229.88 184.01,230.65 184.04,231.4Z" fill="url(#tD1)" filter="url(#mottleD)"/>
<path d="M203.34,232.4 C203.29,233.15 203.12,233.84 202.87,234.47 C202.63,235.1 202.3,235.7 201.86,236.18 C201.42,236.67 200.84,237.12 200.22,237.37 C199.6,237.63 198.81,237.78 198.11,237.7 C197.42,237.61 196.62,237.33 196.06,236.86 C195.5,236.4 195,235.65 194.76,234.91 C194.52,234.16 194.51,233.21 194.62,232.4 C194.73,231.59 195.07,230.78 195.41,230.07 C195.74,229.36 196.16,228.7 196.64,228.14 C197.11,227.58 197.64,226.99 198.24,226.69 C198.84,226.39 199.58,226.18 200.22,226.33 C200.87,226.48 201.6,226.98 202.09,227.59 C202.59,228.19 202.97,229.15 203.18,229.95 C203.39,230.75 203.39,231.65 203.34,232.4Z" fill="#a8a8a8" opacity="0.45" filter="url(#blur1)"/>
<path d="M202.18,231.4 C202.14,232.08 201.99,232.71 201.77,233.28 C201.55,233.86 201.26,234.4 200.87,234.84 C200.47,235.28 199.96,235.69 199.41,235.92 C198.85,236.15 198.15,236.29 197.54,236.21 C196.92,236.14 196.21,235.88 195.71,235.46 C195.21,235.03 194.76,234.35 194.55,233.68 C194.34,233 194.33,232.13 194.43,231.4 C194.53,230.67 194.83,229.92 195.13,229.28 C195.43,228.63 195.8,228.04 196.22,227.53 C196.64,227.01 197.11,226.48 197.64,226.21 C198.18,225.94 198.84,225.75 199.41,225.88 C199.98,226.02 200.64,226.48 201.07,227.02 C201.51,227.57 201.85,228.45 202.04,229.18 C202.22,229.9 202.23,230.72 202.18,231.4Z" fill="url(#tD1)" filter="url(#mottleD)"/>
<path d="M220.47,234.8 C220.43,235.61 220.29,236.51 220,237.26 C219.7,238.01 219.21,238.8 218.7,239.29 C218.18,239.77 217.5,240.06 216.91,240.17 C216.31,240.29 215.71,240.16 215.13,239.97 C214.55,239.79 213.97,239.5 213.44,239.05 C212.92,238.6 212.32,237.99 211.97,237.28 C211.62,236.57 211.36,235.6 211.35,234.8 C211.34,234 211.59,233.15 211.9,232.49 C212.2,231.82 212.68,231.28 213.19,230.8 C213.69,230.32 214.28,229.87 214.94,229.63 C215.6,229.38 216.43,229.2 217.12,229.33 C217.82,229.46 218.59,229.87 219.1,230.39 C219.62,230.91 219.98,231.69 220.21,232.43 C220.43,233.16 220.5,233.99 220.47,234.8Z" fill="#a8a8a8" opacity="0.45" filter="url(#blur1)"/>
<path d="M219.27,233.8 C219.24,234.53 219.12,235.36 218.85,236.04 C218.59,236.72 218.16,237.44 217.7,237.88 C217.24,238.32 216.63,238.58 216.1,238.68 C215.58,238.79 215.04,238.67 214.53,238.5 C214.01,238.33 213.49,238.07 213.03,237.67 C212.56,237.26 212.03,236.7 211.72,236.05 C211.41,235.41 211.18,234.53 211.17,233.8 C211.15,233.07 211.38,232.3 211.65,231.7 C211.92,231.09 212.35,230.6 212.8,230.16 C213.25,229.73 213.77,229.32 214.36,229.1 C214.94,228.87 215.68,228.71 216.3,228.83 C216.91,228.94 217.6,229.32 218.06,229.79 C218.51,230.26 218.84,230.97 219.04,231.64 C219.24,232.31 219.3,233.07 219.27,233.8Z" fill="url(#tD1)" filter="url(#mottleD)"/>
<path d="M233.48,235.4 C233.36,236.25 233.06,237.11 232.72,237.84 C232.38,238.58 231.93,239.27 231.44,239.8 C230.96,240.32 230.39,240.78 229.81,241.01 C229.23,241.25 228.57,241.33 227.96,241.19 C227.35,241.05 226.69,240.69 226.14,240.17 C225.59,239.65 225.05,238.9 224.68,238.1 C224.31,237.31 224.01,236.31 223.93,235.4 C223.84,234.49 223.91,233.46 224.17,232.63 C224.44,231.79 224.92,230.96 225.5,230.38 C226.09,229.8 226.89,229.34 227.67,229.14 C228.44,228.94 229.37,228.94 230.13,229.17 C230.89,229.39 231.68,229.89 232.22,230.49 C232.77,231.09 233.18,231.95 233.39,232.77 C233.6,233.58 233.59,234.55 233.48,235.4Z" fill="#a8a8a8" opacity="0.45" filter="url(#blur1)"/>
<path d="M232.3,234.4 C232.2,235.18 231.93,235.97 231.62,236.64 C231.32,237.32 230.91,237.95 230.48,238.44 C230.04,238.92 229.54,239.34 229.02,239.55 C228.5,239.77 227.91,239.85 227.36,239.72 C226.81,239.59 226.22,239.25 225.73,238.78 C225.24,238.31 224.75,237.61 224.42,236.88 C224.09,236.15 223.82,235.24 223.74,234.4 C223.67,233.56 223.73,232.62 223.97,231.85 C224.2,231.09 224.64,230.32 225.16,229.79 C225.68,229.26 226.4,228.84 227.09,228.65 C227.78,228.47 228.62,228.47 229.3,228.68 C229.98,228.89 230.69,229.34 231.18,229.89 C231.66,230.44 232.04,231.23 232.22,231.98 C232.41,232.73 232.4,233.62 232.3,234.4Z" fill="url(#tD1)" filter="url(#mottleD)"/>
<path d="M168.45,253.1 C168.58,253.91 168.61,254.9 168.4,255.66 C168.19,256.41 167.72,257.2 167.19,257.64 C166.67,258.08 165.89,258.27 165.27,258.3 C164.64,258.34 163.98,258.08 163.42,257.84 C162.86,257.6 162.36,257.28 161.9,256.87 C161.43,256.47 160.94,256.01 160.63,255.39 C160.32,254.76 160.05,253.91 160.03,253.1 C160.01,252.29 160.21,251.27 160.52,250.53 C160.83,249.79 161.39,249.1 161.88,248.66 C162.38,248.23 162.98,248.01 163.51,247.93 C164.04,247.84 164.56,247.96 165.05,248.17 C165.54,248.38 166.01,248.72 166.44,249.17 C166.87,249.61 167.31,250.17 167.64,250.83 C167.98,251.48 168.33,252.29 168.45,253.1Z" fill="#a8a8a8" opacity="0.45" filter="url(#blur1)"/>
<path d="M167.23,252.1 C167.35,252.83 167.38,253.73 167.19,254.42 C167.01,255.11 166.59,255.82 166.13,256.22 C165.67,256.62 164.99,256.79 164.44,256.82 C163.89,256.85 163.32,256.62 162.83,256.4 C162.34,256.18 161.9,255.9 161.5,255.52 C161.09,255.15 160.66,254.74 160.39,254.17 C160.12,253.6 159.88,252.83 159.86,252.1 C159.84,251.37 160.02,250.44 160.29,249.77 C160.57,249.1 161.05,248.47 161.49,248.07 C161.92,247.68 162.45,247.48 162.91,247.41 C163.37,247.33 163.83,247.44 164.26,247.63 C164.69,247.81 165.1,248.13 165.47,248.53 C165.85,248.93 166.23,249.44 166.53,250.04 C166.82,250.63 167.12,251.37 167.23,252.1Z" fill="url(#tD2)" filter="url(#mottleD)"/>
<path d="M185.75,254.1 C185.83,254.88 185.81,255.72 185.63,256.43 C185.46,257.14 185.13,257.86 184.7,258.36 C184.27,258.87 183.65,259.28 183.06,259.45 C182.47,259.63 181.74,259.6 181.15,259.41 C180.56,259.22 179.96,258.81 179.52,258.32 C179.09,257.83 178.73,257.16 178.53,256.45 C178.34,255.75 178.28,254.89 178.34,254.1 C178.41,253.31 178.65,252.43 178.94,251.73 C179.23,251.02 179.66,250.36 180.07,249.89 C180.48,249.42 180.95,249.08 181.41,248.92 C181.86,248.75 182.34,248.74 182.79,248.91 C183.25,249.07 183.72,249.43 184.12,249.91 C184.52,250.39 184.92,251.08 185.19,251.78 C185.46,252.48 185.68,253.32 185.75,254.1Z" fill="#a8a8a8" opacity="0.45" filter="url(#blur1)"/>
<path d="M184.56,253.1 C184.62,253.8 184.6,254.57 184.45,255.21 C184.3,255.86 184.02,256.51 183.65,256.97 C183.28,257.43 182.74,257.8 182.23,257.96 C181.72,258.11 181.09,258.09 180.58,257.92 C180.07,257.74 179.55,257.37 179.17,256.93 C178.8,256.48 178.49,255.87 178.32,255.24 C178.15,254.6 178.09,253.81 178.15,253.1 C178.21,252.39 178.42,251.58 178.67,250.95 C178.92,250.31 179.29,249.71 179.64,249.28 C180,248.86 180.41,248.55 180.8,248.4 C181.19,248.25 181.61,248.24 182,248.39 C182.39,248.54 182.8,248.86 183.15,249.3 C183.49,249.73 183.84,250.36 184.07,250.99 C184.31,251.63 184.5,252.4 184.56,253.1Z" fill="url(#tD2)" filter="url(#mottleD)"/>
<path d="M202.74,255.1 C202.69,255.61 202.42,256.14 202.17,256.56 C201.92,256.98 201.59,257.33 201.25,257.63 C200.9,257.94 200.52,258.25 200.09,258.4 C199.66,258.56 199.13,258.65 198.68,258.56 C198.22,258.48 197.73,258.22 197.35,257.91 C196.97,257.6 196.62,257.16 196.38,256.69 C196.13,256.22 195.92,255.65 195.89,255.1 C195.86,254.55 195.96,253.88 196.21,253.42 C196.46,252.96 196.95,252.55 197.38,252.33 C197.8,252.1 198.33,252.09 198.77,252.06 C199.21,252.03 199.59,252.07 200.02,252.13 C200.45,252.2 200.93,252.22 201.33,252.45 C201.74,252.67 202.23,253.04 202.47,253.49 C202.7,253.93 202.79,254.59 202.74,255.1Z" fill="#a8a8a8" opacity="0.45" filter="url(#blur1)"/>
<path d="M201.52,254.1 C201.48,254.54 201.25,254.99 201.04,255.35 C200.82,255.71 200.55,256.01 200.26,256.27 C199.97,256.54 199.64,256.8 199.28,256.93 C198.92,257.07 198.48,257.14 198.09,257.07 C197.7,257 197.29,256.78 196.97,256.51 C196.65,256.24 196.36,255.87 196.15,255.46 C195.95,255.06 195.76,254.57 195.74,254.1 C195.71,253.63 195.8,253.06 196.01,252.66 C196.22,252.26 196.63,251.92 196.99,251.72 C197.35,251.53 197.79,251.52 198.16,251.49 C198.54,251.47 198.86,251.5 199.22,251.56 C199.58,251.61 199.99,251.63 200.33,251.83 C200.68,252.02 201.09,252.34 201.29,252.72 C201.49,253.09 201.56,253.66 201.52,254.1Z" fill="url(#tD2)" filter="url(#mottleD)"/>
<path d="M217.2,253.9 C217.25,254.45 217.26,255.07 217.12,255.58 C216.98,256.08 216.71,256.62 216.36,256.95 C216.02,257.27 215.52,257.44 215.08,257.52 C214.64,257.59 214.18,257.51 213.74,257.42 C213.3,257.33 212.83,257.24 212.42,256.98 C212,256.72 211.49,256.36 211.23,255.85 C210.97,255.34 210.81,254.54 210.86,253.9 C210.91,253.26 211.24,252.5 211.54,251.98 C211.85,251.46 212.3,251.09 212.68,250.78 C213.06,250.46 213.43,250.25 213.82,250.12 C214.2,249.99 214.62,249.9 215,250.02 C215.38,250.13 215.8,250.42 216.11,250.8 C216.42,251.17 216.67,251.74 216.85,252.25 C217.04,252.77 217.16,253.35 217.2,253.9Z" fill="#a8a8a8" opacity="0.45" filter="url(#blur1)"/>
<path d="M216.03,252.9 C216.07,253.38 216.08,253.92 215.97,254.37 C215.85,254.81 215.62,255.28 215.34,255.57 C215.05,255.85 214.63,256 214.27,256.06 C213.9,256.13 213.52,256.06 213.15,255.98 C212.78,255.9 212.4,255.82 212.05,255.59 C211.7,255.36 211.28,255.05 211.06,254.61 C210.84,254.16 210.71,253.46 210.75,252.9 C210.79,252.34 211.07,251.68 211.32,251.22 C211.57,250.77 211.95,250.44 212.26,250.17 C212.58,249.89 212.89,249.7 213.21,249.59 C213.54,249.48 213.88,249.4 214.2,249.5 C214.52,249.6 214.87,249.86 215.13,250.19 C215.38,250.51 215.59,251.01 215.74,251.46 C215.9,251.91 216,252.42 216.03,252.9Z" fill="url(#tD2)" filter="url(#mottleD)"/>
<path d="M230.59,255.7 C230.54,256.1 230.43,256.48 230.27,256.83 C230.11,257.18 229.9,257.56 229.62,257.81 C229.34,258.06 228.94,258.27 228.58,258.34 C228.22,258.41 227.8,258.33 227.44,258.23 C227.09,258.12 226.76,257.94 226.45,257.72 C226.14,257.5 225.8,257.25 225.57,256.91 C225.34,256.58 225.1,256.12 225.07,255.7 C225.04,255.28 225.17,254.76 225.38,254.39 C225.58,254.02 225.97,253.72 226.3,253.49 C226.64,253.26 227.02,253.12 227.41,253.01 C227.79,252.9 228.22,252.8 228.63,252.85 C229.03,252.9 229.52,253.05 229.83,253.31 C230.15,253.58 230.41,254.04 230.54,254.43 C230.66,254.83 230.63,255.3 230.59,255.7Z" fill="#a8a8a8" opacity="0.45" filter="url(#blur1)"/>
<path d="M229.41,254.7 C229.37,255.03 229.28,255.34 229.15,255.63 C229.02,255.92 228.85,256.23 228.62,256.43 C228.39,256.64 228.07,256.81 227.77,256.87 C227.48,256.93 227.14,256.86 226.85,256.78 C226.56,256.69 226.29,256.54 226.04,256.36 C225.78,256.18 225.51,255.97 225.32,255.7 C225.13,255.42 224.94,255.05 224.91,254.7 C224.89,254.35 225,253.93 225.16,253.62 C225.33,253.32 225.64,253.08 225.92,252.89 C226.19,252.7 226.5,252.58 226.82,252.49 C227.13,252.4 227.48,252.31 227.81,252.36 C228.14,252.4 228.54,252.52 228.79,252.74 C229.05,252.96 229.26,253.33 229.37,253.66 C229.47,253.99 229.44,254.37 229.41,254.7Z" fill="url(#tD2)" filter="url(#mottleD)"/>
<text x="10.76" y="298.8" font-size="12.46" textLength="7.56" lengthAdjust="spacingAndGlyphs" font-weight="bold">E</text>
<text x="68.32" y="313" font-size="8.6" textLength="42.74" lengthAdjust="spacingAndGlyphs">RPMI-8226</text>
<line x1="46.2" y1="320.3" x2="46.2" y2="399.8" stroke="#1a1a1a" stroke-width="1.3"/>
<line x1="43" y1="322.9" x2="46.2" y2="322.9" stroke="#1a1a1a" stroke-width="0.9"/>
<text x="25.91" y="325.5" font-size="8.4" textLength="14.02" lengthAdjust="spacingAndGlyphs">100</text>
<line x1="43" y1="338.16" x2="46.2" y2="338.16" stroke="#1a1a1a" stroke-width="0.9"/>
<text x="30.57" y="340.76" font-size="8.4" textLength="9.34" lengthAdjust="spacingAndGlyphs">80</text>
<line x1="43" y1="353.42" x2="46.2" y2="353.42" stroke="#1a1a1a" stroke-width="0.9"/>
<text x="30.57" y="356.02" font-size="8.4" textLength="9.34" lengthAdjust="spacingAndGlyphs">60</text>
<line x1="43" y1="368.68" x2="46.2" y2="368.68" stroke="#1a1a1a" stroke-width="0.9"/>
<text x="30.57" y="371.28" font-size="8.4" textLength="9.34" lengthAdjust="spacingAndGlyphs">40</text>
<line x1="43" y1="383.94" x2="46.2" y2="383.94" stroke="#1a1a1a" stroke-width="0.9"/>
<text x="30.57" y="386.54" font-size="8.4" textLength="9.34" lengthAdjust="spacingAndGlyphs">20</text>
<line x1="43" y1="399.2" x2="46.2" y2="399.2" stroke="#1a1a1a" stroke-width="0.9"/>
<text x="35.23" y="401.8" font-size="8.4" textLength="4.67" lengthAdjust="spacingAndGlyphs">0</text>
<line x1="45.6" y1="399.2" x2="137.8" y2="399.2" stroke="#1a1a1a" stroke-width="1.3"/>
<line x1="46.2" y1="399.2" x2="46.2" y2="402.2" stroke="#1a1a1a" stroke-width="0.9"/>
<text x="43.85" y="413.1" font-size="8.4" textLength="4.67" lengthAdjust="spacingAndGlyphs">0</text>
<line x1="75.7" y1="399.2" x2="75.7" y2="402.2" stroke="#1a1a1a" stroke-width="0.9"/>
<text x="70.98" y="413.1" font-size="8.4" textLength="9.34" lengthAdjust="spacingAndGlyphs">20</text>
<line x1="105.2" y1="399.2" x2="105.2" y2="402.2" stroke="#1a1a1a" stroke-width="0.9"/>
<text x="100.6" y="413.1" font-size="8.4" textLength="9.34" lengthAdjust="spacingAndGlyphs">40</text>
<line x1="134.7" y1="399.2" x2="134.7" y2="402.2" stroke="#1a1a1a" stroke-width="0.9"/>
<text x="129.97" y="413.1" font-size="8.4" textLength="9.34" lengthAdjust="spacingAndGlyphs">60</text>
<text x="66.55" y="426.7" font-size="9.9" textLength="46.85" lengthAdjust="spacingAndGlyphs">Survival days</text>
<text transform="translate(19,389.74) rotate(-90)" x="0" y="0" font-size="9.6" textLength="56.79" lengthAdjust="spacingAndGlyphs">Percent survival</text>
<polyline points="46.2,322.9 80,322.9 80,332.6 91.6,332.6 91.6,344.2 94.8,344.2 94.8,355.3 97.2,355.3 97.2,366.5 99,366.5 99,377.2 100.2,377.2 100.2,387.6 104.8,387.6 104.8,399.2" fill="none" stroke="#5cae3c" stroke-width="1.4" stroke-linejoin="round" stroke-linejoin="miter"/>
<polyline points="46.2,322.9 110.4,322.9 110.4,332.4 112.4,332.4 112.4,341.9 125.4,341.9 125.4,351.4 126.4,351.4 126.4,361 131,361 131,370.3 133.8,370.3" fill="none" stroke="#3d4560" stroke-width="1.4" stroke-linejoin="round" stroke-linejoin="miter"/>
<path d="M51.2,366.3 L51.2,365.3 M51.2,366.3 L52.15,365.99 M51.2,366.3 L51.79,367.11 M51.2,366.3 L50.61,367.11 M51.2,366.3 L50.25,365.99 " stroke="#1a1a1a" stroke-width="0.9" stroke-linecap="round" fill="none"/>
<circle cx="51.2" cy="366.3" r="0.55" fill="#1a1a1a"/>
<path d="M54.4,366.3 L54.4,365.3 M54.4,366.3 L55.35,365.99 M54.4,366.3 L54.99,367.11 M54.4,366.3 L53.81,367.11 M54.4,366.3 L53.45,365.99 " stroke="#1a1a1a" stroke-width="0.9" stroke-linecap="round" fill="none"/>
<circle cx="54.4" cy="366.3" r="0.55" fill="#1a1a1a"/>
<line x1="58" y1="360.6" x2="58" y2="372.7" stroke="#1a1a1a" stroke-width="1.0"/>
<line x1="60.4" y1="360.7" x2="70.2" y2="360.7" stroke="#5cae3c" stroke-width="1.3"/>
<line x1="60.4" y1="372.4" x2="70.2" y2="372.4" stroke="#3d4560" stroke-width="1.3"/>
<text x="73.66" y="362.8" font-size="8.6" textLength="13.65" lengthAdjust="spacingAndGlyphs">Veh</text>
<text x="73.07" y="374.9" font-size="8.6" textLength="18.81" lengthAdjust="spacingAndGlyphs">LanC</text>
<text x="222.23" y="313" font-size="8.6" textLength="26.74" lengthAdjust="spacingAndGlyphs">KMS11</text>
<line x1="191.2" y1="320" x2="191.2" y2="399.8" stroke="#1a1a1a" stroke-width="1.3"/>
<line x1="188" y1="322.6" x2="191.2" y2="322.6" stroke="#1a1a1a" stroke-width="0.9"/>
<text x="170.91" y="325.2" font-size="8.4" textLength="14.02" lengthAdjust="spacingAndGlyphs">100</text>
<line x1="188" y1="337.92" x2="191.2" y2="337.92" stroke="#1a1a1a" stroke-width="0.9"/>
<text x="175.57" y="340.52" font-size="8.4" textLength="9.34" lengthAdjust="spacingAndGlyphs">80</text>
<line x1="188" y1="353.24" x2="191.2" y2="353.24" stroke="#1a1a1a" stroke-width="0.9"/>
<text x="175.57" y="355.84" font-size="8.4" textLength="9.34" lengthAdjust="spacingAndGlyphs">60</text>
<line x1="188" y1="368.56" x2="191.2" y2="368.56" stroke="#1a1a1a" stroke-width="0.9"/>
<text x="175.57" y="371.16" font-size="8.4" textLength="9.34" lengthAdjust="spacingAndGlyphs">40</text>
<line x1="188" y1="383.88" x2="191.2" y2="383.88" stroke="#1a1a1a" stroke-width="0.9"/>
<text x="175.57" y="386.48" font-size="8.4" textLength="9.34" lengthAdjust="spacingAndGlyphs">20</text>
<line x1="188" y1="399.2" x2="191.2" y2="399.2" stroke="#1a1a1a" stroke-width="0.9"/>
<text x="180.23" y="401.8" font-size="8.4" textLength="4.67" lengthAdjust="spacingAndGlyphs">0</text>
<line x1="190.6" y1="399.2" x2="284.5" y2="399.2" stroke="#1a1a1a" stroke-width="1.3"/>
<line x1="191.2" y1="399.2" x2="191.2" y2="402.2" stroke="#1a1a1a" stroke-width="0.9"/>
<line x1="213.67" y1="399.2" x2="213.67" y2="402.2" stroke="#1a1a1a" stroke-width="0.9"/>
<text x="208.94" y="413.1" font-size="8.4" textLength="9.34" lengthAdjust="spacingAndGlyphs">20</text>
<line x1="236.14" y1="399.2" x2="236.14" y2="402.2" stroke="#1a1a1a" stroke-width="0.9"/>
<text x="231.54" y="413.1" font-size="8.4" textLength="9.34" lengthAdjust="spacingAndGlyphs">40</text>
<line x1="258.61" y1="399.2" x2="258.61" y2="402.2" stroke="#1a1a1a" stroke-width="0.9"/>
<text x="253.89" y="413.1" font-size="8.4" textLength="9.34" lengthAdjust="spacingAndGlyphs">60</text>
<line x1="281.08" y1="399.2" x2="281.08" y2="402.2" stroke="#1a1a1a" stroke-width="0.9"/>
<text x="276.38" y="413.1" font-size="8.4" textLength="9.34" lengthAdjust="spacingAndGlyphs">80</text>
<text x="212.15" y="426.7" font-size="9.9" textLength="46.85" lengthAdjust="spacingAndGlyphs">Survival days</text>
<text transform="translate(164.5,389.94) rotate(-90)" x="0" y="0" font-size="9.6" textLength="57.2" lengthAdjust="spacingAndGlyphs">Percent survival</text>
<polyline points="191.2,322.6 253.4,322.6 253.4,344.5 254.5,344.5 254.5,354.9 256.1,354.9 256.1,366 258.5,366 258.5,377.6 263.1,377.6 263.1,387.6 264.5,387.6 264.5,399.2" fill="none" stroke="#5cae3c" stroke-width="1.4" stroke-linejoin="round" stroke-linejoin="miter"/>
<polyline points="191.2,322.6 256.8,322.6 256.8,331.9 259.6,331.9 259.6,342 261.4,342 261.4,351.4 262.8,351.4 262.8,361.2 264.5,361.2 264.5,370.6 268,370.6 268,380 269.4,380 269.4,389.7 270.3,389.7 270.3,399.2" fill="none" stroke="#3d4560" stroke-width="1.4" stroke-linejoin="round" stroke-linejoin="miter"/>
<text x="199.45" y="358.1" font-size="8.6" textLength="11.25" lengthAdjust="spacingAndGlyphs">NS</text>
<line x1="213.6" y1="350.1" x2="213.6" y2="363.3" stroke="#1a1a1a" stroke-width="1.0"/>
<line x1="217.8" y1="350.7" x2="227.3" y2="350.7" stroke="#5cae3c" stroke-width="1.3"/>
<line x1="217.8" y1="362.5" x2="227.3" y2="362.5" stroke="#3d4560" stroke-width="1.3"/>
<text x="230.96" y="352.7" font-size="8.6" textLength="13.75" lengthAdjust="spacingAndGlyphs">Veh</text>
<text x="230.41" y="364.6" font-size="8.6" textLength="17.76" lengthAdjust="spacingAndGlyphs">LanC</text>
<text x="302.75" y="298.8" font-size="12.46" textLength="7.07" lengthAdjust="spacingAndGlyphs" font-weight="bold">F</text>
<text x="348.32" y="313" font-size="8.6" textLength="42.74" lengthAdjust="spacingAndGlyphs">RPMI-8226</text>
<line x1="333.3" y1="326.9" x2="333.3" y2="399.8" stroke="#1a1a1a" stroke-width="1.3"/>
<line x1="330.1" y1="329.3" x2="333.3" y2="329.3" stroke="#1a1a1a" stroke-width="0.9"/>
<text x="317.37" y="331.9" font-size="8.4" textLength="9.34" lengthAdjust="spacingAndGlyphs">50</text>
<line x1="330.1" y1="343.28" x2="333.3" y2="343.28" stroke="#1a1a1a" stroke-width="0.9"/>
<text x="317.37" y="345.88" font-size="8.4" textLength="9.34" lengthAdjust="spacingAndGlyphs">40</text>
<line x1="330.1" y1="357.26" x2="333.3" y2="357.26" stroke="#1a1a1a" stroke-width="0.9"/>
<text x="317.37" y="359.86" font-size="8.4" textLength="9.34" lengthAdjust="spacingAndGlyphs">30</text>
<line x1="330.1" y1="371.24" x2="333.3" y2="371.24" stroke="#1a1a1a" stroke-width="0.9"/>
<text x="317.37" y="373.84" font-size="8.4" textLength="9.34" lengthAdjust="spacingAndGlyphs">20</text>
<line x1="330.1" y1="385.22" x2="333.3" y2="385.22" stroke="#1a1a1a" stroke-width="0.9"/>
<text x="317.37" y="387.82" font-size="8.4" textLength="9.34" lengthAdjust="spacingAndGlyphs">10</text>
<line x1="330.1" y1="399.2" x2="333.3" y2="399.2" stroke="#1a1a1a" stroke-width="0.9"/>
<text x="322.03" y="401.8" font-size="8.4" textLength="4.67" lengthAdjust="spacingAndGlyphs">0</text>
<line x1="332.7" y1="399.2" x2="407.2" y2="399.2" stroke="#1a1a1a" stroke-width="1.3"/>
<line x1="352.4" y1="399.2" x2="352.4" y2="402.2" stroke="#1a1a1a" stroke-width="0.9"/>
<line x1="390.9" y1="399.2" x2="390.9" y2="402.2" stroke="#1a1a1a" stroke-width="0.9"/>
<text x="339.1" y="413.2" font-size="8.6" textLength="26.34" lengthAdjust="spacingAndGlyphs">DMSO</text>
<text x="380.57" y="413.2" font-size="8.6" textLength="20.28" lengthAdjust="spacingAndGlyphs">LanC</text>
<text transform="translate(310.9,395.79) rotate(-90)" x="0" y="0" font-size="9.2" textLength="63.06" lengthAdjust="spacingAndGlyphs">GFP-MM cells (%)</text>
<line x1="353.8" y1="329.9" x2="403.2" y2="329.9" stroke="#555" stroke-width="1.3"/>
<path d="M376.5,325.8 L376.5,324.8 M376.5,325.8 L377.45,325.49 M376.5,325.8 L377.09,326.61 M376.5,325.8 L375.91,326.61 M376.5,325.8 L375.55,325.49 " stroke="#1a1a1a" stroke-width="0.9" stroke-linecap="round" fill="none"/>
<circle cx="376.5" cy="325.8" r="0.55" fill="#1a1a1a"/>
<path d="M380.1,325.8 L380.1,324.8 M380.1,325.8 L381.05,325.49 M380.1,325.8 L380.69,326.61 M380.1,325.8 L379.51,326.61 M380.1,325.8 L379.15,325.49 " stroke="#1a1a1a" stroke-width="0.9" stroke-linecap="round" fill="none"/>
<circle cx="380.1" cy="325.8" r="0.55" fill="#1a1a1a"/>
<line x1="340" y1="353.1" x2="364.7" y2="353.1" stroke="#1a1a1a" stroke-width="1.0"/>
<line x1="352.5" y1="344.5" x2="352.5" y2="353.1" stroke="#1a1a1a" stroke-width="1.0"/>
<line x1="346.2" y1="344.5" x2="359.2" y2="344.5" stroke="#1a1a1a" stroke-width="1.0"/>
<circle cx="352.2" cy="340.4" r="1.4" fill="#a3182c"/>
<circle cx="352.7" cy="345.5" r="1.4" fill="#a3182c"/>
<circle cx="350.4" cy="352.4" r="1.4" fill="#a3182c"/>
<circle cx="355.5" cy="352.6" r="1.4" fill="#a3182c"/>
<circle cx="349.2" cy="355.4" r="1.4" fill="#a3182c"/>
<circle cx="352.2" cy="358.4" r="1.4" fill="#a3182c"/>
<circle cx="352.2" cy="366.2" r="1.4" fill="#a3182c"/>
<line x1="378.1" y1="381.9" x2="403.5" y2="381.9" stroke="#1a1a1a" stroke-width="1.0"/>
<line x1="390.8" y1="367.6" x2="390.8" y2="381.9" stroke="#1a1a1a" stroke-width="1.0"/>
<line x1="383.8" y1="367.6" x2="397.7" y2="367.6" stroke="#1a1a1a" stroke-width="1.0"/>
<circle cx="390.8" cy="358.4" r="1.4" fill="#2b3f6c"/>
<circle cx="393.8" cy="375.5" r="1.4" fill="#2b3f6c"/>
<circle cx="390.8" cy="379.2" r="1.4" fill="#2b3f6c"/>
<circle cx="387.8" cy="380.8" r="1.4" fill="#2b3f6c"/>
<circle cx="390.8" cy="383.8" r="1.4" fill="#2b3f6c"/>
<text x="462.23" y="313" font-size="8.6" textLength="26.74" lengthAdjust="spacingAndGlyphs">KMS11</text>
<line x1="439.2" y1="326.1" x2="439.2" y2="399.9" stroke="#1a1a1a" stroke-width="1.3"/>
<line x1="436" y1="328.5" x2="439.2" y2="328.5" stroke="#1a1a1a" stroke-width="0.9"/>
<text x="423.27" y="331.1" font-size="8.4" textLength="9.34" lengthAdjust="spacingAndGlyphs">40</text>
<line x1="436" y1="346.2" x2="439.2" y2="346.2" stroke="#1a1a1a" stroke-width="0.9"/>
<text x="423.27" y="348.8" font-size="8.4" textLength="9.34" lengthAdjust="spacingAndGlyphs">30</text>
<line x1="436" y1="363.9" x2="439.2" y2="363.9" stroke="#1a1a1a" stroke-width="0.9"/>
<text x="423.27" y="366.5" font-size="8.4" textLength="9.34" lengthAdjust="spacingAndGlyphs">20</text>
<line x1="436" y1="381.6" x2="439.2" y2="381.6" stroke="#1a1a1a" stroke-width="0.9"/>
<text x="423.27" y="384.2" font-size="8.4" textLength="9.34" lengthAdjust="spacingAndGlyphs">10</text>
<line x1="436" y1="399.3" x2="439.2" y2="399.3" stroke="#1a1a1a" stroke-width="0.9"/>
<text x="427.93" y="401.9" font-size="8.4" textLength="4.67" lengthAdjust="spacingAndGlyphs">0</text>
<line x1="438.6" y1="399.3" x2="512.6" y2="399.3" stroke="#1a1a1a" stroke-width="1.3"/>
<line x1="458.8" y1="399.3" x2="458.8" y2="402.3" stroke="#1a1a1a" stroke-width="0.9"/>
<line x1="498.1" y1="399.3" x2="498.1" y2="402.3" stroke="#1a1a1a" stroke-width="0.9"/>
<text x="445.5" y="413.2" font-size="8.6" textLength="26.34" lengthAdjust="spacingAndGlyphs">DMSO</text>
<text x="487.77" y="413.2" font-size="8.6" textLength="20.28" lengthAdjust="spacingAndGlyphs">LanC</text>
<line x1="460.5" y1="335.9" x2="509.6" y2="335.9" stroke="#555" stroke-width="1.3"/>
<text x="479.04" y="330.4" font-size="8.6" textLength="11.47" lengthAdjust="spacingAndGlyphs">NS</text>
<line x1="446.2" y1="363.5" x2="471.5" y2="363.5" stroke="#1a1a1a" stroke-width="1.0"/>
<line x1="458.8" y1="348.9" x2="458.8" y2="363.5" stroke="#1a1a1a" stroke-width="1.0"/>
<line x1="452.6" y1="348.9" x2="465.8" y2="348.9" stroke="#1a1a1a" stroke-width="1.0"/>
<circle cx="458.8" cy="345.5" r="1.4" fill="#a3182c"/>
<circle cx="455.4" cy="350.8" r="1.4" fill="#a3182c"/>
<circle cx="458.8" cy="351.5" r="1.4" fill="#a3182c"/>
<circle cx="458.8" cy="362.3" r="1.4" fill="#a3182c"/>
<circle cx="455.4" cy="375" r="1.4" fill="#a3182c"/>
<circle cx="458.8" cy="377.8" r="1.4" fill="#a3182c"/>
<circle cx="458.8" cy="382.4" r="1.4" fill="#a3182c"/>
<line x1="485.4" y1="368.5" x2="510.8" y2="368.5" stroke="#1a1a1a" stroke-width="1.0"/>
<line x1="498.1" y1="359.3" x2="498.1" y2="368.5" stroke="#1a1a1a" stroke-width="1.0"/>
<line x1="492.3" y1="359.3" x2="505" y2="359.3" stroke="#1a1a1a" stroke-width="1.0"/>
<circle cx="495.1" cy="360.7" r="1.4" fill="#2b3f6c"/>
<circle cx="498.1" cy="360.7" r="1.4" fill="#2b3f6c"/>
<circle cx="501.5" cy="360.7" r="1.4" fill="#2b3f6c"/>
<circle cx="505" cy="360.7" r="1.4" fill="#2b3f6c"/>
<circle cx="498.1" cy="375.5" r="1.4" fill="#2b3f6c"/>
<circle cx="495.1" cy="380.1" r="1.4" fill="#2b3f6c"/>
<circle cx="501.1" cy="379.6" r="1.4" fill="#2b3f6c"/>
<text x="9.7" y="456.3" font-size="13.04" textLength="9.79" lengthAdjust="spacingAndGlyphs" font-weight="bold">G</text>
<text x="81.76" y="470.3" font-size="8.6" textLength="28.13" lengthAdjust="spacingAndGlyphs">Vehicle</text>
<text x="136.13" y="470.3" font-size="8.6" textLength="33.3" lengthAdjust="spacingAndGlyphs">3 mg/kg</text>
<text x="189.94" y="470.3" font-size="8.6" textLength="32.78" lengthAdjust="spacingAndGlyphs">6 mg/kg</text>
<text x="252.66" y="470.3" font-size="8.6" textLength="28.74" lengthAdjust="spacingAndGlyphs">Vehicle</text>
<text x="307.73" y="470.3" font-size="8.6" textLength="32.68" lengthAdjust="spacingAndGlyphs">3 mg/kg</text>
<text x="360.83" y="470.3" font-size="8.6" textLength="33.09" lengthAdjust="spacingAndGlyphs">6 mg/kg</text>
<text x="138.45" y="593.6" font-size="8.6" textLength="14.51" lengthAdjust="spacingAndGlyphs">LP1</text>
<text x="292.42" y="593.6" font-size="8.6" textLength="43.15" lengthAdjust="spacingAndGlyphs">RPMI-8226</text>
<text x="22.55" y="483.5" font-size="8.6" textLength="36.99" lengthAdjust="spacingAndGlyphs">Pre-PARP</text>
<text x="22.79" y="493.6" font-size="8.6" textLength="36.74" lengthAdjust="spacingAndGlyphs">Cle-PARP</text>
<text x="36.55" y="503.6" font-size="8.6" textLength="21.95" lengthAdjust="spacingAndGlyphs">c-Maf</text>
<text x="36.55" y="510.6" font-size="8.6" textLength="21.95" lengthAdjust="spacingAndGlyphs">c-Maf</text>
<text x="35.06" y="523.2" font-size="8.6" textLength="23.85" lengthAdjust="spacingAndGlyphs">ITGB7</text>
<text x="29.46" y="541.8" font-size="8.6" textLength="30.07" lengthAdjust="spacingAndGlyphs">CCND2</text>
<text x="37.89" y="563.8" font-size="8.6" textLength="25.02" lengthAdjust="spacingAndGlyphs">Otub1</text>
<text x="32.46" y="576.8" font-size="8.6" textLength="31.05" lengthAdjust="spacingAndGlyphs">GAPDH</text>
<line x1="62.5" y1="480.5" x2="67.6" y2="480.5" stroke="#1a1a1a" stroke-width="0.9"/>
<path d="M66.2,479.1 L69.3,480.5 L66.2,481.9 Z" fill="#1a1a1a"/>
<line x1="62.5" y1="487.2" x2="67.6" y2="487.2" stroke="#1a1a1a" stroke-width="0.9"/>
<path d="M66.2,485.8 L69.3,487.2 L66.2,488.6 Z" fill="#1a1a1a"/>
<line x1="62.5" y1="500.7" x2="67.6" y2="500.7" stroke="#1a1a1a" stroke-width="0.9"/>
<path d="M66.2,499.3 L69.3,500.7 L66.2,502.1 Z" fill="#1a1a1a"/>
<line x1="62.5" y1="507" x2="67.6" y2="507" stroke="#1a1a1a" stroke-width="0.9"/>
<path d="M66.2,505.6 L69.3,507 L66.2,508.4 Z" fill="#1a1a1a"/>
<rect x="72.2" y="476" width="166.6" height="15.8" fill="rgb(210,210,210)"/>
<rect x="72.2" y="476" width="166.6" height="15.8" fill="url(#blotbg)" stroke="#3a3a3a" stroke-width="1.2"/>
<rect x="72.2" y="495.9" width="166.6" height="15.5" fill="rgb(218,218,218)"/>
<rect x="72.2" y="495.9" width="166.6" height="15.5" fill="url(#blotbg)" stroke="#3a3a3a" stroke-width="1.2"/>
<rect x="72.2" y="514.9" width="166.6" height="13.7" fill="rgb(212,212,212)"/>
<rect x="72.2" y="514.9" width="166.6" height="13.7" fill="url(#blotbg)" stroke="#3a3a3a" stroke-width="1.2"/>
<rect x="72.2" y="532.5" width="166.6" height="13.6" fill="rgb(204,204,204)"/>
<rect x="72.2" y="532.5" width="166.6" height="13.6" fill="url(#blotbg)" stroke="#3a3a3a" stroke-width="1.2"/>
<rect x="72.2" y="550.5" width="166.6" height="13.1" fill="rgb(202,202,202)"/>
<rect x="72.2" y="550.5" width="166.6" height="13.1" fill="url(#blotbg)" stroke="#3a3a3a" stroke-width="1.2"/>
<rect x="72.2" y="568.5" width="166.6" height="13.5" fill="rgb(206,206,206)"/>
<rect x="72.2" y="568.5" width="166.6" height="13.5" fill="url(#blotbg)" stroke="#3a3a3a" stroke-width="1.2"/>
<g filter="url(#bandblur)">
<rect x="75.8" y="480" width="12" height="3.6" rx="1.8" fill="rgb(49,49,49)"/>
<rect x="89.6" y="480" width="12" height="3.6" rx="1.8" fill="rgb(49,49,49)"/>
<rect x="103.3" y="480" width="12" height="3.6" rx="1.8" fill="rgb(49,49,49)"/>
<rect x="116.4" y="480" width="12" height="3.6" rx="1.8" fill="rgb(53,53,53)"/>
<rect x="129.8" y="480" width="12" height="3.6" rx="1.8" fill="rgb(65,65,65)"/>
<rect x="142.6" y="480" width="12" height="3.6" rx="1.8" fill="rgb(69,69,69)"/>
<rect x="155.5" y="480" width="12" height="3.6" rx="1.8" fill="rgb(69,69,69)"/>
<rect x="168.7" y="480" width="12" height="3.6" rx="1.8" fill="rgb(69,69,69)"/>
<rect x="183.3" y="480" width="12" height="3.6" rx="1.8" fill="rgb(49,49,49)"/>
<rect x="195.2" y="480" width="12" height="3.6" rx="1.8" fill="rgb(53,53,53)"/>
<rect x="208.8" y="480" width="12" height="3.6" rx="1.8" fill="rgb(53,53,53)"/>
<rect x="222.2" y="480" width="12" height="3.6" rx="1.8" fill="rgb(53,53,53)"/>
<rect x="76.05" y="486.1" width="11.5" height="2.4" rx="1.2" fill="rgb(129,129,129)"/>
<rect x="89.85" y="486.1" width="11.5" height="2.4" rx="1.2" fill="rgb(129,129,129)"/>
<rect x="103.55" y="486.1" width="11.5" height="2.4" rx="1.2" fill="rgb(129,129,129)"/>
<rect x="116.65" y="486.1" width="11.5" height="2.4" rx="1.2" fill="rgb(139,139,139)"/>
<rect x="130.05" y="486.1" width="11.5" height="2.4" rx="1.2" fill="rgb(173,173,173)"/>
<rect x="142.85" y="486.1" width="11.5" height="2.4" rx="1.2" fill="rgb(173,173,173)"/>
<rect x="155.75" y="486.1" width="11.5" height="2.4" rx="1.2" fill="rgb(173,173,173)"/>
<rect x="168.95" y="486.1" width="11.5" height="2.4" rx="1.2" fill="rgb(173,173,173)"/>
<rect x="183.55" y="486.1" width="11.5" height="2.4" rx="1.2" fill="rgb(49,49,49)"/>
<rect x="195.45" y="486.1" width="11.5" height="2.4" rx="1.2" fill="rgb(53,53,53)"/>
<rect x="209.05" y="486.1" width="11.5" height="2.4" rx="1.2" fill="rgb(53,53,53)"/>
<rect x="222.45" y="486.1" width="11.5" height="2.4" rx="1.2" fill="rgb(61,61,61)"/>
<rect x="75.8" y="499.6" width="12" height="4" rx="2" fill="rgb(129,129,129)"/>
<rect x="89.6" y="499.6" width="12" height="4" rx="2" fill="rgb(105,105,105)"/>
<rect x="103.3" y="499.6" width="12" height="4" rx="2" fill="rgb(9,9,9)"/>
<rect x="116.4" y="499.6" width="12" height="4" rx="2" fill="rgb(9,9,9)"/>
<rect x="129.8" y="499.6" width="12" height="4" rx="2" fill="rgb(105,105,105)"/>
<rect x="142.6" y="499.6" width="12" height="4" rx="2" fill="rgb(115,115,115)"/>
<rect x="155.5" y="499.6" width="12" height="4" rx="2" fill="rgb(141,141,141)"/>
<rect x="168.7" y="499.6" width="12" height="4" rx="2" fill="rgb(89,89,89)"/>
<rect x="183.3" y="499.6" width="12" height="4" rx="2" fill="rgb(193,193,193)"/>
<rect x="195.2" y="499.6" width="12" height="4" rx="2" fill="rgb(181,181,181)"/>
<rect x="208.8" y="499.6" width="12" height="4" rx="2" fill="rgb(195,195,195)"/>
<rect x="222.2" y="499.6" width="12" height="4" rx="2" fill="rgb(199,199,199)"/>
<rect x="75.8" y="505.4" width="12" height="3.6" rx="1.8" fill="rgb(55,55,55)"/>
<rect x="89.6" y="505.4" width="12" height="3.6" rx="1.8" fill="rgb(94,94,94)"/>
<rect x="103.3" y="505.4" width="12" height="3.6" rx="1.8" fill="rgb(85,85,85)"/>
<rect x="116.4" y="505.4" width="12" height="3.6" rx="1.8" fill="rgb(9,9,9)"/>
<rect x="129.8" y="505.4" width="12" height="3.6" rx="1.8" fill="rgb(141,141,141)"/>
<rect x="142.6" y="505.4" width="12" height="3.6" rx="1.8" fill="rgb(141,141,141)"/>
<rect x="155.5" y="505.4" width="12" height="3.6" rx="1.8" fill="rgb(149,149,149)"/>
<rect x="168.7" y="505.4" width="12" height="3.6" rx="1.8" fill="rgb(11,11,11)"/>
<rect x="183.3" y="505.4" width="12" height="3.6" rx="1.8" fill="rgb(185,185,185)"/>
<rect x="195.2" y="505.4" width="12" height="3.6" rx="1.8" fill="rgb(185,185,185)"/>
<rect x="208.8" y="505.4" width="12" height="3.6" rx="1.8" fill="rgb(189,189,189)"/>
<rect x="222.2" y="505.4" width="12" height="3.6" rx="1.8" fill="rgb(195,195,195)"/>
<rect x="76.55" y="509.4" width="10.5" height="2" rx="1" fill="rgb(85,85,85)"/>
<rect x="117.15" y="509.4" width="10.5" height="2" rx="1" fill="rgb(115,115,115)"/>
<rect x="169.45" y="509.4" width="10.5" height="2" rx="1" fill="rgb(94,94,94)"/>
<rect x="76.2" y="520.6" width="11.2" height="2.8" rx="1.4" fill="rgb(21,21,21)"/>
<rect x="90" y="520.6" width="11.2" height="2.8" rx="1.4" fill="rgb(29,29,29)"/>
<rect x="103.7" y="520.6" width="11.2" height="2.8" rx="1.4" fill="rgb(21,21,21)"/>
<rect x="116.8" y="520.6" width="11.2" height="2.8" rx="1.4" fill="rgb(21,21,21)"/>
<rect x="130.2" y="520.6" width="11.2" height="2.8" rx="1.4" fill="rgb(29,29,29)"/>
<rect x="143" y="520.6" width="11.2" height="2.8" rx="1.4" fill="rgb(101,101,101)"/>
<rect x="155.9" y="520.6" width="11.2" height="2.8" rx="1.4" fill="rgb(35,35,35)"/>
<rect x="169.1" y="520.6" width="11.2" height="2.8" rx="1.4" fill="rgb(25,25,25)"/>
<rect x="183.7" y="520.6" width="11.2" height="2.8" rx="1.4" fill="rgb(121,121,121)"/>
<rect x="195.6" y="520.6" width="11.2" height="2.8" rx="1.4" fill="rgb(125,125,125)"/>
<rect x="209.2" y="520.6" width="11.2" height="2.8" rx="1.4" fill="rgb(49,49,49)"/>
<rect x="222.6" y="520.6" width="11.2" height="2.8" rx="1.4" fill="rgb(75,75,75)"/>
<rect x="75.8" y="538.3" width="12" height="3.6" rx="1.8" fill="rgb(25,25,25)"/>
<rect x="89.6" y="538.3" width="12" height="3.6" rx="1.8" fill="rgb(11,11,11)"/>
<rect x="103.3" y="538.3" width="12" height="3.6" rx="1.8" fill="rgb(11,11,11)"/>
<rect x="116.4" y="538.3" width="12" height="3.6" rx="1.8" fill="rgb(21,21,21)"/>
<rect x="129.8" y="538.3" width="12" height="3.6" rx="1.8" fill="rgb(141,141,141)"/>
<rect x="142.6" y="538.3" width="12" height="3.6" rx="1.8" fill="rgb(121,121,121)"/>
<rect x="155.5" y="538.3" width="12" height="3.6" rx="1.8" fill="rgb(101,101,101)"/>
<rect x="168.7" y="538.3" width="12" height="3.6" rx="1.8" fill="rgb(153,153,153)"/>
<rect x="183.3" y="538.3" width="12" height="3.6" rx="1.8" fill="rgb(129,129,129)"/>
<rect x="195.2" y="538.3" width="12" height="3.6" rx="1.8" fill="rgb(9,9,9)"/>
<rect x="208.8" y="538.3" width="12" height="3.6" rx="1.8" fill="rgb(141,141,141)"/>
<rect x="222.2" y="538.3" width="12" height="3.6" rx="1.8" fill="rgb(195,195,195)"/>
<rect x="75.8" y="551.6" width="12" height="2.4" rx="1.2" fill="rgb(161,161,161)"/>
<rect x="89.6" y="551.6" width="12" height="2.4" rx="1.2" fill="rgb(155,155,155)"/>
<rect x="103.3" y="551.6" width="12" height="2.4" rx="1.2" fill="rgb(155,155,155)"/>
<rect x="116.4" y="551.6" width="12" height="2.4" rx="1.2" fill="rgb(161,161,161)"/>
<rect x="129.8" y="551.6" width="12" height="2.4" rx="1.2" fill="rgb(165,165,165)"/>
<rect x="142.6" y="551.6" width="12" height="2.4" rx="1.2" fill="rgb(165,165,165)"/>
<rect x="155.5" y="551.6" width="12" height="2.4" rx="1.2" fill="rgb(165,165,165)"/>
<rect x="168.7" y="551.6" width="12" height="2.4" rx="1.2" fill="rgb(165,165,165)"/>
<rect x="183.3" y="551.6" width="12" height="2.4" rx="1.2" fill="rgb(165,165,165)"/>
<rect x="195.2" y="551.6" width="12" height="2.4" rx="1.2" fill="rgb(165,165,165)"/>
<rect x="208.8" y="551.6" width="12" height="2.4" rx="1.2" fill="rgb(165,165,165)"/>
<rect x="222.2" y="551.6" width="12" height="2.4" rx="1.2" fill="rgb(169,169,169)"/>
<rect x="75.8" y="556.9" width="12" height="3" rx="1.5" fill="rgb(121,121,121)"/>
<rect x="89.6" y="556.9" width="12" height="3" rx="1.5" fill="rgb(115,115,115)"/>
<rect x="103.3" y="556.9" width="12" height="3" rx="1.5" fill="rgb(115,115,115)"/>
<rect x="116.4" y="556.9" width="12" height="3" rx="1.5" fill="rgb(121,121,121)"/>
<rect x="129.8" y="556.9" width="12" height="3" rx="1.5" fill="rgb(121,121,121)"/>
<rect x="142.6" y="556.9" width="12" height="3" rx="1.5" fill="rgb(133,133,133)"/>
<rect x="155.5" y="556.9" width="12" height="3" rx="1.5" fill="rgb(113,113,113)"/>
<rect x="168.7" y="556.9" width="12" height="3" rx="1.5" fill="rgb(133,133,133)"/>
<rect x="183.3" y="556.9" width="12" height="3" rx="1.5" fill="rgb(125,125,125)"/>
<rect x="195.2" y="556.9" width="12" height="3" rx="1.5" fill="rgb(125,125,125)"/>
<rect x="208.8" y="556.9" width="12" height="3" rx="1.5" fill="rgb(117,117,117)"/>
<rect x="222.2" y="556.9" width="12" height="3" rx="1.5" fill="rgb(133,133,133)"/>
<rect x="75.3" y="574.7" width="13" height="5" rx="2.2" fill="rgb(9,9,9)"/>
<rect x="89.1" y="574.7" width="13" height="5" rx="2.2" fill="rgb(9,9,9)"/>
<rect x="102.8" y="574.7" width="13" height="5" rx="2.2" fill="rgb(9,9,9)"/>
<rect x="115.9" y="574.7" width="13" height="5" rx="2.2" fill="rgb(7,7,7)"/>
<rect x="129.3" y="574.7" width="13" height="5" rx="2.2" fill="rgb(9,9,9)"/>
<rect x="142.1" y="574.7" width="13" height="5" rx="2.2" fill="rgb(9,9,9)"/>
<rect x="155" y="574.7" width="13" height="5" rx="2.2" fill="rgb(9,9,9)"/>
<rect x="168.2" y="574.7" width="13" height="5" rx="2.2" fill="rgb(7,7,7)"/>
<rect x="182.8" y="574.7" width="13" height="5" rx="2.2" fill="rgb(9,9,9)"/>
<rect x="194.7" y="574.7" width="13" height="5" rx="2.2" fill="rgb(9,9,9)"/>
<rect x="208.3" y="574.7" width="13" height="5" rx="2.2" fill="rgb(11,11,11)"/>
<rect x="221.7" y="574.7" width="13" height="5" rx="2.2" fill="rgb(25,25,25)"/>
<rect x="115.9" y="574.2" width="13" height="2" rx="1" fill="rgb(25,25,25)"/>
<ellipse cx="78" cy="557.8" rx="2.6" ry="2.4" fill="#ffffff"/><path d="M220.5,524.7 L227.2,526.1 L220.5,527.6 Z" fill="#0a0a0a"/><rect x="77" y="551.5" width="11" height="12" fill="#000" opacity="0.07"/><rect x="90.25" y="551.5" width="11" height="12" fill="#000" opacity="0.07"/><rect x="103.5" y="551.5" width="11" height="12" fill="#000" opacity="0.07"/><rect x="116.75" y="551.5" width="11" height="12" fill="#000" opacity="0.07"/><rect x="130" y="551.5" width="11" height="12" fill="#000" opacity="0.07"/><rect x="143.25" y="551.5" width="11" height="12" fill="#000" opacity="0.07"/><rect x="156.5" y="551.5" width="11" height="12" fill="#000" opacity="0.07"/><rect x="169.75" y="551.5" width="11" height="12" fill="#000" opacity="0.07"/><rect x="183" y="551.5" width="11" height="12" fill="#000" opacity="0.07"/><rect x="196.25" y="551.5" width="11" height="12" fill="#000" opacity="0.07"/><rect x="209.5" y="551.5" width="11" height="12" fill="#000" opacity="0.07"/><rect x="222.75" y="551.5" width="11" height="12" fill="#000" opacity="0.07"/>
</g>
<line x1="131" y1="473.8" x2="128.6" y2="584.6" stroke="#111" stroke-width="1.35" stroke-dasharray="4,1.9"/>
<line x1="183" y1="473.8" x2="181" y2="584.6" stroke="#111" stroke-width="1.35" stroke-dasharray="4,1.9"/>
<rect x="244" y="476" width="166.8" height="15.8" fill="rgb(202,202,202)"/>
<rect x="244" y="476" width="166.8" height="15.8" fill="url(#blotbg)" stroke="#3a3a3a" stroke-width="1.2"/>
<rect x="244" y="495.9" width="166.8" height="15.5" fill="rgb(210,210,210)"/>
<rect x="244" y="495.9" width="166.8" height="15.5" fill="url(#blotbg)" stroke="#3a3a3a" stroke-width="1.2"/>
<rect x="244" y="514.9" width="166.8" height="13.7" fill="rgb(210,210,210)"/>
<rect x="244" y="514.9" width="166.8" height="13.7" fill="url(#blotbg)" stroke="#3a3a3a" stroke-width="1.2"/>
<rect x="244" y="532.5" width="166.8" height="13.6" fill="rgb(206,206,206)"/>
<rect x="244" y="532.5" width="166.8" height="13.6" fill="url(#blotbg)" stroke="#3a3a3a" stroke-width="1.2"/>
<rect x="244" y="550.5" width="166.8" height="13.1" fill="rgb(194,194,194)"/>
<rect x="244" y="550.5" width="166.8" height="13.1" fill="url(#blotbg)" stroke="#3a3a3a" stroke-width="1.2"/>
<rect x="244" y="568.5" width="166.8" height="13.5" fill="rgb(202,202,202)"/>
<rect x="244" y="568.5" width="166.8" height="13.5" fill="url(#blotbg)" stroke="#3a3a3a" stroke-width="1.2"/>
<g filter="url(#bandblur)">
<rect x="246.7" y="481.2" width="11.8" height="3" rx="1.5" fill="rgb(135,135,135)"/>
<rect x="259.8" y="481.2" width="11.8" height="3" rx="1.5" fill="rgb(175,175,175)"/>
<rect x="272.9" y="481.2" width="11.8" height="3" rx="1.5" fill="rgb(81,81,81)"/>
<rect x="286" y="481.2" width="11.8" height="3" rx="1.5" fill="rgb(69,69,69)"/>
<rect x="299.1" y="481.2" width="11.8" height="3" rx="1.5" fill="rgb(49,49,49)"/>
<rect x="312.2" y="481.2" width="11.8" height="3" rx="1.5" fill="rgb(129,129,129)"/>
<rect x="325.3" y="481.2" width="11.8" height="3" rx="1.5" fill="rgb(129,129,129)"/>
<rect x="338.4" y="481.2" width="11.8" height="3" rx="1.5" fill="rgb(139,139,139)"/>
<rect x="351.5" y="481.2" width="11.8" height="3" rx="1.5" fill="rgb(29,29,29)"/>
<rect x="364.6" y="481.2" width="11.8" height="3" rx="1.5" fill="rgb(61,61,61)"/>
<rect x="377.7" y="481.2" width="11.8" height="3" rx="1.5" fill="rgb(89,89,89)"/>
<rect x="390.8" y="481.2" width="11.8" height="3" rx="1.5" fill="rgb(109,109,109)"/>
<rect x="246.7" y="487.7" width="11.8" height="2.6" rx="1.3" fill="rgb(165,165,165)"/>
<rect x="259.8" y="487.7" width="11.8" height="2.6" rx="1.3" fill="rgb(165,165,165)"/>
<rect x="272.9" y="487.7" width="11.8" height="2.6" rx="1.3" fill="rgb(161,161,161)"/>
<rect x="286" y="487.7" width="11.8" height="2.6" rx="1.3" fill="rgb(165,165,165)"/>
<rect x="299.1" y="487.7" width="11.8" height="2.6" rx="1.3" fill="rgb(129,129,129)"/>
<rect x="312.2" y="487.7" width="11.8" height="2.6" rx="1.3" fill="rgb(141,141,141)"/>
<rect x="325.3" y="487.7" width="11.8" height="2.6" rx="1.3" fill="rgb(129,129,129)"/>
<rect x="338.4" y="487.7" width="11.8" height="2.6" rx="1.3" fill="rgb(121,121,121)"/>
<rect x="351.5" y="487.7" width="11.8" height="2.6" rx="1.3" fill="rgb(29,29,29)"/>
<rect x="364.6" y="487.7" width="11.8" height="2.6" rx="1.3" fill="rgb(55,55,55)"/>
<rect x="377.7" y="487.7" width="11.8" height="2.6" rx="1.3" fill="rgb(29,29,29)"/>
<rect x="390.8" y="487.7" width="11.8" height="2.6" rx="1.3" fill="rgb(75,75,75)"/>
<rect x="246.3" y="500.6" width="12.6" height="3.4" rx="1.7" fill="rgb(11,11,11)"/>
<rect x="259.4" y="500.6" width="12.6" height="3.4" rx="1.7" fill="rgb(11,11,11)"/>
<rect x="272.5" y="500.6" width="12.6" height="3.4" rx="1.7" fill="rgb(7,7,7)"/>
<rect x="285.6" y="500.6" width="12.6" height="3.4" rx="1.7" fill="rgb(15,15,15)"/>
<rect x="298.7" y="500.6" width="12.6" height="3.4" rx="1.7" fill="rgb(35,35,35)"/>
<rect x="311.8" y="500.6" width="12.6" height="3.4" rx="1.7" fill="rgb(121,121,121)"/>
<rect x="324.9" y="500.6" width="12.6" height="3.4" rx="1.7" fill="rgb(129,129,129)"/>
<rect x="338" y="500.6" width="12.6" height="3.4" rx="1.7" fill="rgb(25,25,25)"/>
<rect x="351.1" y="500.6" width="12.6" height="3.4" rx="1.7" fill="rgb(175,175,175)"/>
<rect x="364.2" y="500.6" width="12.6" height="3.4" rx="1.7" fill="rgb(145,145,145)"/>
<rect x="377.3" y="500.6" width="12.6" height="3.4" rx="1.7" fill="rgb(135,135,135)"/>
<rect x="390.4" y="500.6" width="12.6" height="3.4" rx="1.7" fill="rgb(15,15,15)"/>
<rect x="246.3" y="504.8" width="12.6" height="3.4" rx="1.7" fill="rgb(15,15,15)"/>
<rect x="259.4" y="504.8" width="12.6" height="3.4" rx="1.7" fill="rgb(11,11,11)"/>
<rect x="272.5" y="504.8" width="12.6" height="3.4" rx="1.7" fill="rgb(7,7,7)"/>
<rect x="285.6" y="504.8" width="12.6" height="3.4" rx="1.7" fill="rgb(19,19,19)"/>
<rect x="298.7" y="504.8" width="12.6" height="3.4" rx="1.7" fill="rgb(141,141,141)"/>
<rect x="311.8" y="504.8" width="12.6" height="3.4" rx="1.7" fill="rgb(161,161,161)"/>
<rect x="324.9" y="504.8" width="12.6" height="3.4" rx="1.7" fill="rgb(153,153,153)"/>
<rect x="338" y="504.8" width="12.6" height="3.4" rx="1.7" fill="rgb(81,81,81)"/>
<rect x="351.1" y="504.8" width="12.6" height="3.4" rx="1.7" fill="rgb(185,185,185)"/>
<rect x="364.2" y="504.8" width="12.6" height="3.4" rx="1.7" fill="rgb(181,181,181)"/>
<rect x="377.3" y="504.8" width="12.6" height="3.4" rx="1.7" fill="rgb(155,155,155)"/>
<rect x="390.4" y="504.8" width="12.6" height="3.4" rx="1.7" fill="rgb(94,94,94)"/>
<rect x="246.7" y="519.7" width="11.8" height="3" rx="1.5" fill="rgb(21,21,21)"/>
<rect x="259.8" y="519.7" width="11.8" height="3" rx="1.5" fill="rgb(25,25,25)"/>
<rect x="272.9" y="519.7" width="11.8" height="3" rx="1.5" fill="rgb(25,25,25)"/>
<rect x="286" y="519.7" width="11.8" height="3" rx="1.5" fill="rgb(21,21,21)"/>
<rect x="299.1" y="519.7" width="11.8" height="3" rx="1.5" fill="rgb(41,41,41)"/>
<rect x="312.2" y="519.7" width="11.8" height="3" rx="1.5" fill="rgb(101,101,101)"/>
<rect x="325.3" y="519.7" width="11.8" height="3" rx="1.5" fill="rgb(115,115,115)"/>
<rect x="338.4" y="519.7" width="11.8" height="3" rx="1.5" fill="rgb(73,73,73)"/>
<rect x="351.5" y="519.7" width="11.8" height="3" rx="1.5" fill="rgb(181,181,181)"/>
<rect x="364.6" y="519.7" width="11.8" height="3" rx="1.5" fill="rgb(173,173,173)"/>
<rect x="377.7" y="519.7" width="11.8" height="3" rx="1.5" fill="rgb(189,189,189)"/>
<rect x="390.8" y="519.7" width="11.8" height="3" rx="1.5" fill="rgb(189,189,189)"/>
<rect x="325.7" y="517.4" width="11" height="2" rx="1" fill="rgb(145,145,145)"/>
<rect x="246.7" y="537.8" width="11.8" height="3" rx="1.5" fill="rgb(29,29,29)"/>
<rect x="259.8" y="537.8" width="11.8" height="3" rx="1.5" fill="rgb(21,21,21)"/>
<rect x="272.9" y="537.8" width="11.8" height="3" rx="1.5" fill="rgb(25,25,25)"/>
<rect x="286" y="537.8" width="11.8" height="3" rx="1.5" fill="rgb(41,41,41)"/>
<rect x="299.1" y="537.8" width="11.8" height="3" rx="1.5" fill="rgb(29,29,29)"/>
<rect x="312.2" y="537.8" width="11.8" height="3" rx="1.5" fill="rgb(29,29,29)"/>
<rect x="325.3" y="537.8" width="11.8" height="3" rx="1.5" fill="rgb(85,85,85)"/>
<rect x="338.4" y="537.8" width="11.8" height="3" rx="1.5" fill="rgb(133,133,133)"/>
<rect x="351.5" y="537.8" width="11.8" height="3" rx="1.5" fill="rgb(145,145,145)"/>
<rect x="364.6" y="537.8" width="11.8" height="3" rx="1.5" fill="rgb(113,113,113)"/>
<rect x="377.7" y="540.1" width="11.8" height="2.2" rx="1.1" fill="rgb(177,177,177)"/>
<rect x="390.8" y="540.1" width="11.8" height="2.2" rx="1.1" fill="rgb(181,181,181)"/>
<rect x="246.4" y="556.3" width="12.4" height="3" rx="1.5" fill="rgb(101,101,101)"/>
<rect x="259.5" y="556.3" width="12.4" height="3" rx="1.5" fill="rgb(105,105,105)"/>
<rect x="272.6" y="556.3" width="12.4" height="3" rx="1.5" fill="rgb(101,101,101)"/>
<rect x="285.7" y="556.3" width="12.4" height="3" rx="1.5" fill="rgb(111,111,111)"/>
<rect x="298.8" y="556.3" width="12.4" height="3" rx="1.5" fill="rgb(101,101,101)"/>
<rect x="311.9" y="556.3" width="12.4" height="3" rx="1.5" fill="rgb(111,111,111)"/>
<rect x="325" y="556.3" width="12.4" height="3" rx="1.5" fill="rgb(101,101,101)"/>
<rect x="338.1" y="556.3" width="12.4" height="3" rx="1.5" fill="rgb(101,101,101)"/>
<rect x="351.2" y="556.3" width="12.4" height="3" rx="1.5" fill="rgb(117,117,117)"/>
<rect x="364.3" y="556.3" width="12.4" height="3" rx="1.5" fill="rgb(121,121,121)"/>
<rect x="377.4" y="556.3" width="12.4" height="3" rx="1.5" fill="rgb(111,111,111)"/>
<rect x="390.5" y="556.3" width="12.4" height="3" rx="1.5" fill="rgb(117,117,117)"/>
<rect x="246.2" y="573.7" width="12.8" height="4.2" rx="2.1" fill="rgb(15,15,15)"/>
<rect x="259.3" y="573.7" width="12.8" height="4.2" rx="2.1" fill="rgb(15,15,15)"/>
<rect x="272.4" y="573.7" width="12.8" height="4.2" rx="2.1" fill="rgb(15,15,15)"/>
<rect x="285.5" y="573.7" width="12.8" height="4.2" rx="2.1" fill="rgb(15,15,15)"/>
<rect x="298.6" y="573.7" width="12.8" height="4.2" rx="2.1" fill="rgb(15,15,15)"/>
<rect x="311.7" y="573.7" width="12.8" height="4.2" rx="2.1" fill="rgb(15,15,15)"/>
<rect x="324.8" y="573.7" width="12.8" height="4.2" rx="2.1" fill="rgb(15,15,15)"/>
<rect x="337.9" y="573.7" width="12.8" height="4.2" rx="2.1" fill="rgb(15,15,15)"/>
<rect x="351" y="573.7" width="12.8" height="4.2" rx="2.1" fill="rgb(15,15,15)"/>
<rect x="364.1" y="573.7" width="12.8" height="4.2" rx="2.1" fill="rgb(15,15,15)"/>
<rect x="377.2" y="573.7" width="12.8" height="4.2" rx="2.1" fill="rgb(21,21,21)"/>
<rect x="390.3" y="573.7" width="12.8" height="4.2" rx="2.1" fill="rgb(15,15,15)"/>
<ellipse cx="279.5" cy="504.6" rx="8" ry="4.2" fill="#030303"/><rect x="275" y="509.5" width="9" height="1.6" fill="#777"/><path d="M275.5,558 L284,558 L279.5,562.5 Z" fill="#555"/><path d="M366,558.5 L375,558.5 L370.5,562 Z" fill="#777"/><rect x="247.1" y="551.5" width="11" height="12" fill="#000" opacity="0.06"/><rect x="260.2" y="551.5" width="11" height="12" fill="#000" opacity="0.06"/><rect x="273.3" y="551.5" width="11" height="12" fill="#000" opacity="0.06"/><rect x="286.4" y="551.5" width="11" height="12" fill="#000" opacity="0.06"/><rect x="299.5" y="551.5" width="11" height="12" fill="#000" opacity="0.06"/><rect x="312.6" y="551.5" width="11" height="12" fill="#000" opacity="0.06"/><rect x="325.7" y="551.5" width="11" height="12" fill="#000" opacity="0.06"/><rect x="338.8" y="551.5" width="11" height="12" fill="#000" opacity="0.06"/><rect x="351.9" y="551.5" width="11" height="12" fill="#000" opacity="0.06"/><rect x="365" y="551.5" width="11" height="12" fill="#000" opacity="0.06"/><rect x="378.1" y="551.5" width="11" height="12" fill="#000" opacity="0.06"/><rect x="391.2" y="551.5" width="11" height="12" fill="#000" opacity="0.06"/>
</g>
<line x1="301.2" y1="473.8" x2="299.2" y2="584.6" stroke="#111" stroke-width="1.35" stroke-dasharray="4,1.9"/>
<line x1="353" y1="473.8" x2="351" y2="584.6" stroke="#111" stroke-width="1.35" stroke-dasharray="4,1.9"/>
<rect x="0.5" y="0.5" width="519" height="602" fill="none" stroke="#000" stroke-width="1"/>
</svg>
</body></html>
